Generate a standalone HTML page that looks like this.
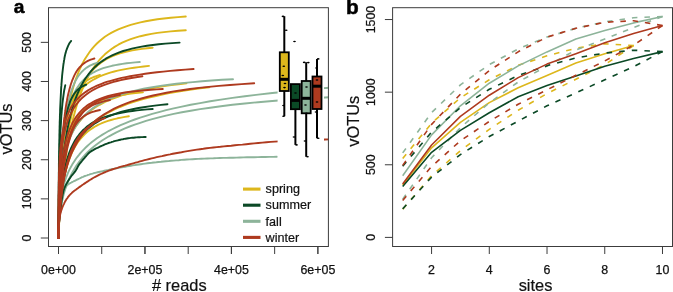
<!DOCTYPE html>
<html><head><meta charset="utf-8"><title>Figure</title>
<style>html,body{margin:0;padding:0;background:#fff}text{filter:grayscale(1)}body{width:673px;height:292px;overflow:hidden;position:relative;font-family:"Liberation Sans",sans-serif}</style></head>
<body>
<svg width="673" height="292" viewBox="0 0 673 292" style="position:absolute;left:0;top:0;font-family:'Liberation Sans',sans-serif">
<rect width="673" height="292" fill="#fff"/>
<defs><clipPath id="ca"><rect x="48.5" y="7.7" width="279.9" height="238.8"/></clipPath><clipPath id="cb"><rect x="392.6" y="7.7" width="279.9" height="238.8"/></clipPath></defs>
<g clip-path="url(#ca)" fill="none" stroke-width="1.9" stroke-linecap="round" stroke-linejoin="round">
<path d="M58.5,238.0 L58.5,233.8 L58.5,233.6 L58.5,233.4 L58.5,233.3 L58.5,233.1 L58.5,232.9 L58.5,232.7 L58.5,232.5 L58.5,232.3 L58.5,232.0 L58.5,231.8 L58.5,231.6 L58.5,231.3 L58.5,231.1 L58.5,230.8 L58.6,230.5 L58.6,230.2 L58.6,229.9 L58.6,229.6 L58.6,229.3 L58.6,228.9 L58.6,228.6 L58.6,228.2 L58.6,227.8 L58.6,227.4 L58.6,227.0 L58.6,226.6 L58.6,226.2 L58.6,225.7 L58.6,225.2 L58.6,224.8 L58.6,224.3 L58.7,223.7 L58.7,223.2 L58.7,222.6 L58.7,222.0 L58.7,221.4 L58.7,220.8 L58.7,220.1 L58.7,219.5 L58.7,218.7 L58.8,218.0 L58.8,217.3 L58.8,216.5 L58.8,215.7 L58.8,214.8 L58.9,214.0 L58.9,213.1 L58.9,212.2 L58.9,211.2 L59.0,210.2 L59.0,209.2 L59.0,208.1 L59.1,207.0 L59.1,205.9 L59.1,204.7 L59.2,203.5 L59.2,202.2 L59.3,200.9 L59.3,199.6 L59.4,198.2 L59.4,196.8 L59.5,195.3 L59.6,193.8 L59.6,192.3 L59.7,190.7 L59.8,189.0 L59.9,187.3 L60.0,185.6 L60.0,183.8 L60.1,181.9 L60.3,180.0 L60.4,178.0 L60.5,176.0 L60.6,174.0 L60.8,171.8 L60.9,169.7 L61.1,167.4 L61.2,165.1 L61.4,162.8 L61.6,160.4 L61.8,158.0 L62.0,155.5 L62.2,152.9 L62.5,150.3 L62.7,147.6 L63.0,144.9 L63.3,142.2 L63.6,139.4 L64.0,136.5 L64.3,133.6 L64.7,130.7 L65.1,127.7 L65.5,124.7 L66.0,121.6 L66.5,118.5 L67.0,115.4 L67.5,112.3 L68.1,109.1 L68.7,105.9 L69.4,102.7 L70.1,99.5 L70.9,96.3 L71.7,93.1 L72.5,89.9 L73.4,86.7 L74.4,83.5 L75.4,80.3 L76.6,77.2 L77.7,74.1 L79.0,71.0 L80.3,68.0 L81.7,65.0 L83.2,62.1 L84.8,59.2 L86.6,56.4 L88.4,53.7 L90.3,51.0 L92.4,48.4 L94.6,45.9 L96.9,43.5 L99.4,41.2 L102.1,39.0 L104.9,36.8 L108.0,34.8 L111.2,32.9 L114.6,31.1 L118.3,29.4 L122.2,27.8 L126.3,26.3 L130.7,24.9 L135.4,23.6 L140.4,22.4 L145.7,21.3 L151.4,20.2 L157.4,19.3 L163.9,18.5 L170.7,17.8 L178.0,17.1 L185.8,16.5" stroke="#DDB71C"/>
<path d="M58.5,238.0 L58.5,237.0 L58.5,237.0 L58.5,236.9 L58.5,236.8 L58.5,236.8 L58.5,236.7 L58.5,236.7 L58.5,236.6 L58.5,236.5 L58.5,236.5 L58.5,236.4 L58.5,236.3 L58.5,236.2 L58.5,236.1 L58.5,236.0 L58.6,235.9 L58.6,235.8 L58.6,235.7 L58.6,235.6 L58.6,235.5 L58.6,235.3 L58.6,235.2 L58.6,235.1 L58.6,234.9 L58.6,234.8 L58.6,234.6 L58.6,234.4 L58.6,234.2 L58.6,234.1 L58.6,233.9 L58.6,233.7 L58.6,233.4 L58.7,233.2 L58.7,233.0 L58.7,232.7 L58.7,232.4 L58.7,232.2 L58.7,231.9 L58.7,231.6 L58.7,231.3 L58.7,230.9 L58.8,230.6 L58.8,230.2 L58.8,229.8 L58.8,229.4 L58.8,229.0 L58.9,228.5 L58.9,228.1 L58.9,227.6 L58.9,227.1 L59.0,226.5 L59.0,225.9 L59.0,225.4 L59.1,224.7 L59.1,224.1 L59.1,223.4 L59.2,222.7 L59.2,221.9 L59.3,221.2 L59.3,220.4 L59.4,219.5 L59.4,218.6 L59.5,217.7 L59.6,216.7 L59.6,215.7 L59.7,214.6 L59.8,213.5 L59.9,212.3 L60.0,211.1 L60.0,209.9 L60.1,208.5 L60.3,207.2 L60.4,205.7 L60.5,204.2 L60.6,202.7 L60.8,201.0 L60.9,199.3 L61.1,197.6 L61.2,195.8 L61.4,193.9 L61.6,191.9 L61.8,189.8 L62.0,187.7 L62.2,185.5 L62.5,183.2 L62.7,180.9 L63.0,178.4 L63.3,175.9 L63.6,173.3 L64.0,170.6 L64.3,167.8 L64.7,165.0 L65.1,162.1 L65.5,159.0 L66.0,155.9 L66.5,152.8 L67.0,149.5 L67.5,146.2 L68.1,142.8 L68.7,139.3 L69.4,135.8 L70.1,132.2 L70.9,128.6 L71.7,124.9 L72.5,121.2 L73.4,117.4 L74.4,113.7 L75.4,109.8 L76.6,106.0 L77.7,102.2 L79.0,98.4 L80.3,94.6 L81.7,90.8 L83.2,87.1 L84.8,83.4 L86.6,79.8 L88.4,76.3 L90.3,72.8 L92.4,69.4 L94.6,66.2 L96.9,63.0 L99.4,60.0 L102.1,57.1 L104.9,54.3 L108.0,51.7 L111.2,49.2 L114.6,46.9 L118.3,44.7 L122.2,42.7 L126.3,40.9 L130.7,39.2 L135.4,37.6 L140.4,36.2 L145.7,35.0 L151.4,33.9 L157.4,32.9 L163.9,32.1 L170.7,31.4 L178.0,30.7 L185.8,30.2" stroke="#DDB71C"/>
<path d="M58.5,238.0 L58.5,236.3 L58.5,236.3 L58.5,236.2 L58.5,236.1 L58.5,236.0 L58.5,235.9 L58.5,235.8 L58.5,235.7 L58.5,235.6 L58.5,235.5 L58.5,235.4 L58.5,235.3 L58.5,235.2 L58.5,235.0 L58.5,234.9 L58.5,234.8 L58.6,234.6 L58.6,234.5 L58.6,234.3 L58.6,234.1 L58.6,234.0 L58.6,233.8 L58.6,233.6 L58.6,233.4 L58.6,233.2 L58.6,233.0 L58.6,232.7 L58.6,232.5 L58.6,232.3 L58.6,232.0 L58.6,231.7 L58.6,231.4 L58.6,231.2 L58.6,230.8 L58.7,230.5 L58.7,230.2 L58.7,229.8 L58.7,229.5 L58.7,229.1 L58.7,228.7 L58.7,228.3 L58.7,227.9 L58.8,227.4 L58.8,226.9 L58.8,226.4 L58.8,225.9 L58.8,225.4 L58.8,224.8 L58.9,224.3 L58.9,223.7 L58.9,223.0 L58.9,222.4 L59.0,221.7 L59.0,221.0 L59.0,220.2 L59.1,219.5 L59.1,218.7 L59.1,217.8 L59.2,217.0 L59.2,216.1 L59.3,215.1 L59.3,214.1 L59.4,213.1 L59.4,212.1 L59.5,211.0 L59.5,209.8 L59.6,208.7 L59.7,207.4 L59.8,206.2 L59.8,204.8 L59.9,203.5 L60.0,202.0 L60.1,200.6 L60.2,199.0 L60.3,197.5 L60.4,195.8 L60.5,194.1 L60.7,192.4 L60.8,190.6 L60.9,188.7 L61.1,186.8 L61.3,184.8 L61.4,182.8 L61.6,180.7 L61.8,178.5 L62.0,176.3 L62.2,174.0 L62.5,171.7 L62.7,169.2 L63.0,166.8 L63.3,164.2 L63.6,161.6 L63.9,159.0 L64.2,156.3 L64.6,153.5 L65.0,150.7 L65.4,147.8 L65.8,144.9 L66.3,142.0 L66.8,139.0 L67.3,135.9 L67.8,132.8 L68.4,129.7 L69.0,126.6 L69.7,123.5 L70.4,120.3 L71.1,117.2 L71.9,114.0 L72.8,110.8 L73.7,107.7 L74.6,104.5 L75.6,101.4 L76.7,98.3 L77.9,95.3 L79.1,92.3 L80.4,89.4 L81.7,86.5 L83.2,83.7 L84.8,80.9 L86.4,78.3 L88.1,75.7 L90.0,73.3 L92.0,70.9 L94.1,68.6 L96.3,66.5 L98.7,64.4 L101.2,62.5 L103.9,60.7 L106.7,59.0 L109.8,57.4 L113.0,56.0 L116.4,54.6 L120.0,53.4 L123.9,52.3 L128.0,51.3 L132.4,50.4 L137.0,49.6 L141.9,48.9 L147.1,48.2 L152.7,47.7" stroke="#DDB71C"/>
<path d="M58.5,238.0 L58.5,226.6 L58.5,226.3 L58.5,226.0 L58.5,225.6 L58.5,225.3 L58.5,224.9 L58.5,224.6 L58.5,224.2 L58.5,223.8 L58.5,223.4 L58.5,223.0 L58.5,222.6 L58.5,222.2 L58.5,221.8 L58.5,221.3 L58.5,220.9 L58.6,220.4 L58.6,219.9 L58.6,219.4 L58.6,218.9 L58.6,218.4 L58.6,217.8 L58.6,217.3 L58.6,216.7 L58.6,216.2 L58.6,215.6 L58.6,215.0 L58.6,214.3 L58.6,213.7 L58.6,213.1 L58.6,212.4 L58.6,211.7 L58.6,211.0 L58.6,210.3 L58.7,209.6 L58.7,208.8 L58.7,208.0 L58.7,207.3 L58.7,206.4 L58.7,205.6 L58.7,204.8 L58.7,203.9 L58.8,203.0 L58.8,202.1 L58.8,201.2 L58.8,200.3 L58.8,199.3 L58.8,198.3 L58.9,197.3 L58.9,196.3 L58.9,195.2 L58.9,194.2 L59.0,193.1 L59.0,192.0 L59.0,190.8 L59.1,189.7 L59.1,188.5 L59.1,187.3 L59.2,186.1 L59.2,184.8 L59.3,183.5 L59.3,182.2 L59.4,180.9 L59.4,179.6 L59.5,178.2 L59.5,176.8 L59.6,175.4 L59.7,174.0 L59.7,172.5 L59.8,171.0 L59.9,169.5 L60.0,168.0 L60.1,166.5 L60.2,164.9 L60.3,163.3 L60.4,161.7 L60.5,160.1 L60.6,158.4 L60.8,156.7 L60.9,155.0 L61.0,153.3 L61.2,151.6 L61.4,149.9 L61.5,148.1 L61.7,146.3 L61.9,144.6 L62.2,142.8 L62.4,140.9 L62.6,139.1 L62.9,137.3 L63.2,135.5 L63.4,133.6 L63.8,131.8 L64.1,129.9 L64.4,128.0 L64.8,126.2 L65.2,124.3 L65.6,122.5 L66.1,120.6 L66.5,118.7 L67.0,116.9 L67.6,115.1 L68.1,113.2 L68.7,111.4 L69.4,109.6 L70.0,107.8 L70.8,106.0 L71.5,104.3 L72.3,102.5 L73.2,100.8 L74.1,99.1 L75.1,97.5 L76.1,95.8 L77.2,94.2 L78.4,92.6 L79.7,91.1 L81.0,89.6 L82.4,88.1 L83.9,86.6 L85.5,85.2 L87.1,83.8 L88.9,82.5 L90.8,81.2 L92.8,80.0 L95.0,78.8 L97.3,77.6 L99.7,76.5 L102.3,75.4 L105.0,74.4 L107.9,73.4 L111.0,72.4 L114.3,71.5 L117.7,70.7 L121.4,69.9 L125.4,69.1 L129.5,68.4 L134.0,67.7 L138.7,67.1 L143.7,66.5 L149.0,65.9" stroke="#DDB71C"/>
<path d="M58.5,238.0 L58.5,232.2 L58.5,232.0 L58.5,231.8 L58.5,231.6 L58.5,231.4 L58.5,231.2 L58.5,231.0 L58.5,230.7 L58.5,230.5 L58.5,230.3 L58.5,230.0 L58.5,229.7 L58.5,229.5 L58.5,229.2 L58.5,228.9 L58.5,228.6 L58.6,228.3 L58.6,228.0 L58.6,227.7 L58.6,227.4 L58.6,227.0 L58.6,226.7 L58.6,226.3 L58.6,226.0 L58.6,225.6 L58.6,225.2 L58.6,224.8 L58.6,224.3 L58.6,223.9 L58.6,223.5 L58.6,223.0 L58.6,222.5 L58.6,222.1 L58.6,221.6 L58.7,221.1 L58.7,220.5 L58.7,220.0 L58.7,219.4 L58.7,218.9 L58.7,218.3 L58.7,217.7 L58.7,217.0 L58.7,216.4 L58.8,215.7 L58.8,215.0 L58.8,214.3 L58.8,213.6 L58.8,212.9 L58.9,212.1 L58.9,211.4 L58.9,210.6 L58.9,209.7 L59.0,208.9 L59.0,208.0 L59.0,207.2 L59.0,206.3 L59.1,205.3 L59.1,204.4 L59.2,203.4 L59.2,202.4 L59.2,201.4 L59.3,200.3 L59.3,199.3 L59.4,198.2 L59.4,197.1 L59.5,195.9 L59.6,194.7 L59.6,193.5 L59.7,192.3 L59.8,191.1 L59.8,189.8 L59.9,188.5 L60.0,187.2 L60.1,185.8 L60.2,184.5 L60.3,183.1 L60.4,181.6 L60.5,180.2 L60.7,178.7 L60.8,177.2 L60.9,175.7 L61.1,174.1 L61.3,172.6 L61.4,171.0 L61.6,169.4 L61.8,167.7 L62.0,166.1 L62.2,164.4 L62.4,162.7 L62.7,161.0 L62.9,159.3 L63.2,157.6 L63.5,155.9 L63.8,154.1 L64.2,152.3 L64.5,150.6 L64.9,148.8 L65.3,147.0 L65.7,145.2 L66.1,143.4 L66.6,141.6 L67.1,139.8 L67.6,138.0 L68.2,136.3 L68.8,134.5 L69.5,132.7 L70.1,131.0 L70.9,129.3 L71.6,127.5 L72.4,125.8 L73.3,124.2 L74.2,122.5 L75.2,120.9 L76.2,119.3 L77.3,117.7 L78.5,116.2 L79.7,114.7 L81.0,113.2 L82.4,111.8 L83.9,110.4 L85.5,109.1 L87.1,107.8 L88.9,106.5 L90.8,105.3 L92.8,104.1 L94.9,103.0 L97.2,102.0 L99.6,100.9 L102.1,100.0 L104.8,99.0 L107.7,98.2 L110.7,97.3 L113.9,96.6 L117.4,95.8 L121.0,95.1 L124.9,94.5 L129.0,93.9 L133.3,93.4 L138.0,92.9 L142.9,92.4" stroke="#DDB71C"/>
<path d="M58.5,238.0 L58.5,227.9 L58.5,227.7 L58.5,227.4 L58.5,227.1 L58.5,226.8 L58.5,226.5 L58.5,226.2 L58.5,225.9 L58.5,225.6 L58.5,225.3 L58.5,225.0 L58.5,224.6 L58.5,224.3 L58.5,223.9 L58.5,223.6 L58.6,223.2 L58.6,222.8 L58.6,222.4 L58.6,222.0 L58.6,221.6 L58.6,221.2 L58.6,220.7 L58.6,220.3 L58.6,219.8 L58.6,219.4 L58.6,218.9 L58.6,218.4 L58.6,217.9 L58.6,217.4 L58.6,216.9 L58.6,216.3 L58.6,215.8 L58.7,215.2 L58.7,214.7 L58.7,214.1 L58.7,213.5 L58.7,212.9 L58.7,212.2 L58.7,211.6 L58.7,210.9 L58.7,210.3 L58.8,209.6 L58.8,208.9 L58.8,208.2 L58.8,207.4 L58.8,206.7 L58.9,205.9 L58.9,205.1 L58.9,204.3 L58.9,203.5 L59.0,202.7 L59.0,201.9 L59.0,201.0 L59.1,200.1 L59.1,199.2 L59.1,198.3 L59.2,197.4 L59.2,196.4 L59.3,195.4 L59.3,194.4 L59.4,193.4 L59.4,192.4 L59.5,191.4 L59.6,190.3 L59.6,189.2 L59.7,188.1 L59.8,187.0 L59.9,185.8 L60.0,184.7 L60.0,183.5 L60.2,182.3 L60.3,181.1 L60.4,179.8 L60.5,178.6 L60.6,177.3 L60.8,176.0 L60.9,174.7 L61.1,173.4 L61.2,172.0 L61.4,170.6 L61.6,169.2 L61.8,167.8 L62.0,166.4 L62.2,165.0 L62.5,163.5 L62.7,162.0 L63.0,160.6 L63.3,159.0 L63.6,157.5 L64.0,156.0 L64.3,154.4 L64.7,152.9 L65.1,151.3 L65.5,149.7 L66.0,148.1 L66.5,146.5 L67.0,144.9 L67.6,143.3 L68.1,141.7 L68.8,140.0 L69.4,138.4 L70.2,136.7 L70.9,135.1 L71.7,133.4 L72.6,131.8 L73.5,130.1 L74.5,128.5 L75.5,126.8 L76.6,125.2 L77.8,123.6 L79.1,121.9 L80.4,120.3 L81.8,118.7 L83.3,117.1 L84.9,115.5 L86.7,113.9 L88.5,112.4 L90.5,110.8 L92.5,109.3 L94.7,107.8 L97.1,106.3 L99.6,104.8 L102.3,103.4 L105.1,101.9 L108.2,100.5 L111.4,99.2 L114.9,97.8 L118.5,96.5 L122.4,95.2 L126.6,94.0 L131.0,92.7 L135.7,91.6 L140.8,90.4 L146.1,89.3 L151.8,88.2 L157.9,87.1 L164.4,86.1 L171.2,85.1 L178.6,84.2 L186.4,83.3" stroke="#DDB71C"/>
<path d="M58.5,238.0 L58.5,232.1 L58.5,231.9 L58.5,231.7 L58.5,231.5 L58.5,231.4 L58.5,231.2 L58.5,231.0 L58.5,230.7 L58.5,230.5 L58.5,230.3 L58.5,230.1 L58.5,229.8 L58.5,229.6 L58.5,229.3 L58.5,229.1 L58.6,228.8 L58.6,228.6 L58.6,228.3 L58.6,228.0 L58.6,227.7 L58.6,227.4 L58.6,227.1 L58.6,226.8 L58.6,226.4 L58.6,226.1 L58.6,225.7 L58.6,225.4 L58.6,225.0 L58.6,224.6 L58.6,224.2 L58.6,223.8 L58.6,223.4 L58.7,223.0 L58.7,222.6 L58.7,222.1 L58.7,221.7 L58.7,221.2 L58.7,220.7 L58.7,220.2 L58.7,219.7 L58.8,219.2 L58.8,218.6 L58.8,218.1 L58.8,217.5 L58.8,216.9 L58.9,216.3 L58.9,215.7 L58.9,215.1 L58.9,214.4 L59.0,213.8 L59.0,213.1 L59.0,212.4 L59.1,211.7 L59.1,210.9 L59.1,210.2 L59.2,209.4 L59.2,208.6 L59.3,207.8 L59.3,207.0 L59.4,206.1 L59.4,205.3 L59.5,204.4 L59.6,203.5 L59.6,202.5 L59.7,201.6 L59.8,200.6 L59.9,199.6 L60.0,198.6 L60.1,197.5 L60.2,196.5 L60.3,195.4 L60.4,194.3 L60.5,193.1 L60.7,192.0 L60.8,190.8 L61.0,189.6 L61.1,188.4 L61.3,187.1 L61.5,185.8 L61.7,184.5 L61.9,183.2 L62.1,181.8 L62.4,180.5 L62.6,179.1 L62.9,177.6 L63.2,176.2 L63.5,174.7 L63.8,173.2 L64.2,171.7 L64.6,170.2 L65.0,168.6 L65.4,167.0 L65.9,165.4 L66.4,163.8 L66.9,162.1 L67.4,160.5 L68.0,158.8 L68.7,157.1 L69.3,155.4 L70.1,153.6 L70.8,151.9 L71.6,150.1 L72.5,148.3 L73.4,146.5 L74.4,144.7 L75.5,142.9 L76.6,141.1 L77.8,139.3 L79.1,137.4 L80.5,135.6 L81.9,133.7 L83.5,131.9 L85.1,130.1 L86.9,128.2 L88.8,126.4 L90.8,124.5 L92.9,122.7 L95.2,120.9 L97.7,119.1 L100.3,117.3 L103.0,115.6 L106.0,113.8 L109.1,112.1 L112.5,110.3 L116.1,108.7 L119.9,107.0 L124.0,105.3 L128.3,103.7 L132.9,102.1 L137.9,100.6 L143.1,99.1 L148.8,97.6 L154.8,96.2 L161.1,94.8 L167.9,93.4 L175.2,92.1 L183.0,90.8 L191.2,89.5 L200.0,88.3 L209.4,87.2" stroke="#DDB71C"/>
<path d="M58.5,238.0 L58.5,235.7 L58.5,235.7 L58.5,235.6 L58.5,235.5 L58.5,235.4 L58.5,235.3 L58.5,235.2 L58.5,235.1 L58.5,235.0 L58.5,234.9 L58.5,234.7 L58.5,234.6 L58.5,234.5 L58.5,234.4 L58.5,234.2 L58.5,234.1 L58.6,233.9 L58.6,233.8 L58.6,233.6 L58.6,233.5 L58.6,233.3 L58.6,233.1 L58.6,232.9 L58.6,232.7 L58.6,232.6 L58.6,232.4 L58.6,232.1 L58.6,231.9 L58.6,231.7 L58.6,231.5 L58.6,231.2 L58.6,231.0 L58.6,230.7 L58.6,230.4 L58.6,230.2 L58.7,229.9 L58.7,229.6 L58.7,229.3 L58.7,229.0 L58.7,228.6 L58.7,228.3 L58.7,227.9 L58.7,227.6 L58.8,227.2 L58.8,226.8 L58.8,226.4 L58.8,226.0 L58.8,225.5 L58.8,225.1 L58.9,224.6 L58.9,224.2 L58.9,223.7 L58.9,223.1 L59.0,222.6 L59.0,222.1 L59.0,221.5 L59.0,220.9 L59.1,220.3 L59.1,219.7 L59.1,219.1 L59.2,218.4 L59.2,217.7 L59.3,217.0 L59.3,216.3 L59.4,215.6 L59.4,214.8 L59.5,214.0 L59.5,213.2 L59.6,212.3 L59.7,211.5 L59.7,210.6 L59.8,209.7 L59.9,208.7 L60.0,207.8 L60.0,206.8 L60.1,205.8 L60.2,204.7 L60.3,203.6 L60.5,202.5 L60.6,201.4 L60.7,200.2 L60.8,199.1 L61.0,197.8 L61.1,196.6 L61.3,195.3 L61.4,194.0 L61.6,192.7 L61.8,191.3 L62.0,189.9 L62.2,188.5 L62.5,187.1 L62.7,185.6 L63.0,184.1 L63.2,182.6 L63.5,181.1 L63.8,179.5 L64.1,177.9 L64.5,176.3 L64.8,174.7 L65.2,173.1 L65.6,171.4 L66.1,169.7 L66.5,168.0 L67.0,166.3 L67.5,164.6 L68.1,162.9 L68.6,161.1 L69.2,159.4 L69.9,157.6 L70.6,155.9 L71.3,154.2 L72.1,152.4 L72.9,150.7 L73.8,149.0 L74.7,147.3 L75.7,145.6 L76.7,143.9 L77.8,142.3 L79.0,140.7 L80.2,139.1 L81.6,137.5 L83.0,136.0 L84.4,134.5 L86.0,133.0 L87.7,131.6 L89.4,130.2 L91.3,128.9 L93.3,127.6 L95.4,126.3 L97.6,125.2 L100.0,124.0 L102.5,122.9 L105.2,121.9 L108.0,120.9 L111.0,120.0 L114.2,119.1 L117.5,118.3 L121.1,117.6 L124.9,116.9 L128.9,116.2" stroke="#DDB71C"/>
<path d="M58.5,238.0 L58.5,235.1 L58.5,235.0 L58.5,234.8 L58.5,234.7 L58.5,234.6 L58.5,234.5 L58.5,234.3 L58.5,234.2 L58.5,234.0 L58.5,233.9 L58.5,233.7 L58.5,233.6 L58.5,233.4 L58.5,233.2 L58.5,233.0 L58.5,232.8 L58.5,232.6 L58.6,232.4 L58.6,232.2 L58.6,232.0 L58.6,231.7 L58.6,231.5 L58.6,231.3 L58.6,231.0 L58.6,230.7 L58.6,230.5 L58.6,230.2 L58.6,229.9 L58.6,229.6 L58.6,229.2 L58.6,228.9 L58.6,228.6 L58.6,228.2 L58.6,227.8 L58.6,227.4 L58.6,227.0 L58.6,226.6 L58.7,226.2 L58.7,225.7 L58.7,225.3 L58.7,224.8 L58.7,224.3 L58.7,223.8 L58.7,223.3 L58.7,222.7 L58.7,222.1 L58.8,221.5 L58.8,220.9 L58.8,220.3 L58.8,219.7 L58.8,219.0 L58.8,218.3 L58.8,217.5 L58.9,216.8 L58.9,216.0 L58.9,215.2 L58.9,214.4 L59.0,213.5 L59.0,212.7 L59.0,211.8 L59.0,210.8 L59.1,209.8 L59.1,208.8 L59.1,207.8 L59.2,206.7 L59.2,205.6 L59.3,204.5 L59.3,203.3 L59.3,202.1 L59.4,200.9 L59.4,199.6 L59.5,198.3 L59.5,197.0 L59.6,195.6 L59.7,194.2 L59.7,192.7 L59.8,191.2 L59.9,189.7 L60.0,188.1 L60.0,186.5 L60.1,184.8 L60.2,183.1 L60.3,181.4 L60.4,179.6 L60.5,177.8 L60.6,175.9 L60.8,174.0 L60.9,172.1 L61.0,170.1 L61.2,168.1 L61.3,166.1 L61.5,164.0 L61.6,161.9 L61.8,159.7 L62.0,157.6 L62.2,155.4 L62.4,153.1 L62.6,150.9 L62.9,148.6 L63.1,146.3 L63.4,144.0 L63.6,141.6 L63.9,139.3 L64.2,136.9 L64.6,134.6 L64.9,132.2 L65.3,129.9 L65.7,127.5 L66.1,125.1 L66.5,122.8 L66.9,120.5 L67.4,118.2 L67.9,115.9 L68.4,113.6 L69.0,111.4 L69.6,109.2 L70.2,107.1 L70.9,105.0 L71.6,102.9 L72.3,100.9 L73.1,98.9 L73.9,97.0 L74.8,95.2 L75.7,93.4 L76.7,91.7 L77.7,90.1 L78.8,88.5 L80.0,87.0 L81.2,85.6 L82.5,84.3 L83.8,83.0 L85.2,81.8 L86.7,80.7 L88.3,79.7 L90.0,78.7 L91.8,77.9 L93.7,77.0 L95.7,76.3 L97.8,75.6 L100.0,75.0" stroke="#DDB71C"/>
<path d="M58.5,238.0 L58.5,231.0 L58.5,230.7 L58.5,230.5 L58.5,230.2 L58.5,230.0 L58.5,229.7 L58.5,229.4 L58.5,229.2 L58.5,228.9 L58.5,228.6 L58.5,228.2 L58.5,227.9 L58.5,227.6 L58.5,227.3 L58.5,226.9 L58.5,226.5 L58.6,226.2 L58.6,225.8 L58.6,225.4 L58.6,225.0 L58.6,224.5 L58.6,224.1 L58.6,223.6 L58.6,223.2 L58.6,222.7 L58.6,222.2 L58.6,221.7 L58.6,221.2 L58.6,220.6 L58.6,220.0 L58.6,219.5 L58.6,218.9 L58.6,218.3 L58.6,217.6 L58.7,217.0 L58.7,216.3 L58.7,215.6 L58.7,214.9 L58.7,214.2 L58.7,213.4 L58.7,212.7 L58.7,211.9 L58.7,211.1 L58.8,210.2 L58.8,209.3 L58.8,208.5 L58.8,207.5 L58.8,206.6 L58.9,205.6 L58.9,204.7 L58.9,203.6 L58.9,202.6 L58.9,201.5 L59.0,200.4 L59.0,199.3 L59.0,198.1 L59.1,197.0 L59.1,195.7 L59.1,194.5 L59.2,193.2 L59.2,191.9 L59.3,190.6 L59.3,189.2 L59.4,187.8 L59.4,186.4 L59.5,184.9 L59.5,183.4 L59.6,181.9 L59.7,180.3 L59.7,178.7 L59.8,177.1 L59.9,175.5 L60.0,173.8 L60.1,172.1 L60.2,170.3 L60.3,168.5 L60.4,166.7 L60.5,164.9 L60.6,163.0 L60.8,161.1 L60.9,159.2 L61.0,157.2 L61.2,155.2 L61.4,153.2 L61.5,151.2 L61.7,149.1 L61.9,147.1 L62.1,145.0 L62.4,142.9 L62.6,140.7 L62.8,138.6 L63.1,136.4 L63.4,134.3 L63.7,132.1 L64.0,129.9 L64.4,127.7 L64.7,125.5 L65.1,123.3 L65.5,121.1 L65.9,118.9 L66.4,116.7 L66.9,114.6 L67.4,112.4 L67.9,110.3 L68.5,108.1 L69.1,106.0 L69.8,103.9 L70.5,101.9 L71.2,99.9 L72.0,97.9 L72.9,95.9 L73.7,94.0 L74.7,92.1 L75.7,90.3 L76.7,88.5 L77.9,86.7 L79.1,85.0 L80.3,83.4 L81.7,81.8 L83.1,80.3 L84.6,78.8 L86.2,77.4 L87.9,76.0 L89.7,74.7 L91.7,73.5 L93.7,72.3 L95.9,71.2 L98.2,70.2 L100.6,69.2 L103.2,68.2 L106.0,67.4 L108.9,66.6 L112.0,65.8 L115.3,65.1 L118.8,64.5 L122.5,63.9 L126.5,63.3 L130.6,62.9 L135.1,62.4 L139.8,62.0" stroke="#8DB49A"/>
<path d="M58.5,238.0 L58.5,229.8 L58.5,229.6 L58.5,229.3 L58.5,229.1 L58.5,228.8 L58.5,228.5 L58.5,228.3 L58.5,228.0 L58.5,227.7 L58.5,227.4 L58.5,227.1 L58.5,226.8 L58.5,226.4 L58.5,226.1 L58.5,225.7 L58.6,225.4 L58.6,225.0 L58.6,224.6 L58.6,224.2 L58.6,223.8 L58.6,223.4 L58.6,223.0 L58.6,222.6 L58.6,222.1 L58.6,221.7 L58.6,221.2 L58.6,220.7 L58.6,220.2 L58.6,219.7 L58.6,219.2 L58.6,218.7 L58.7,218.1 L58.7,217.6 L58.7,217.0 L58.7,216.4 L58.7,215.8 L58.7,215.1 L58.7,214.5 L58.7,213.8 L58.8,213.2 L58.8,212.5 L58.8,211.8 L58.8,211.0 L58.8,210.3 L58.9,209.5 L58.9,208.7 L58.9,207.9 L58.9,207.1 L59.0,206.3 L59.0,205.4 L59.0,204.5 L59.1,203.6 L59.1,202.7 L59.1,201.8 L59.2,200.8 L59.2,199.8 L59.3,198.8 L59.3,197.8 L59.4,196.7 L59.4,195.6 L59.5,194.5 L59.6,193.4 L59.6,192.3 L59.7,191.1 L59.8,189.9 L59.9,188.7 L60.0,187.5 L60.1,186.2 L60.2,184.9 L60.3,183.6 L60.4,182.3 L60.6,180.9 L60.7,179.5 L60.8,178.1 L61.0,176.7 L61.2,175.2 L61.4,173.8 L61.5,172.3 L61.8,170.7 L62.0,169.2 L62.2,167.6 L62.5,166.0 L62.7,164.4 L63.0,162.8 L63.3,161.2 L63.6,159.5 L64.0,157.8 L64.4,156.1 L64.8,154.4 L65.2,152.7 L65.6,150.9 L66.1,149.2 L66.6,147.4 L67.2,145.6 L67.7,143.9 L68.4,142.1 L69.0,140.2 L69.7,138.4 L70.5,136.6 L71.3,134.8 L72.2,133.0 L73.1,131.2 L74.1,129.4 L75.1,127.5 L76.3,125.7 L77.5,123.9 L78.7,122.2 L80.1,120.4 L81.6,118.6 L83.1,116.9 L84.8,115.1 L86.6,113.4 L88.4,111.7 L90.5,110.0 L92.6,108.4 L94.9,106.8 L97.4,105.2 L100.0,103.6 L102.8,102.1 L105.8,100.6 L109.0,99.1 L112.4,97.7 L116.0,96.3 L119.9,94.9 L124.0,93.6 L128.5,92.4 L133.2,91.1 L138.2,89.9 L143.6,88.8 L149.3,87.7 L155.5,86.6 L162.0,85.6 L169.0,84.7 L176.4,83.8 L184.4,82.9 L192.9,82.1 L202.0,81.3 L211.6,80.5 L222.0,79.8 L233.0,79.2" stroke="#8DB49A"/>
<path d="M58.5,238.0 L58.5,232.1 L58.5,232.0 L58.5,231.8 L58.5,231.6 L58.5,231.4 L58.5,231.2 L58.5,231.0 L58.5,230.8 L58.5,230.6 L58.5,230.4 L58.5,230.2 L58.5,230.0 L58.5,229.7 L58.5,229.5 L58.6,229.2 L58.6,229.0 L58.6,228.7 L58.6,228.5 L58.6,228.2 L58.6,227.9 L58.6,227.6 L58.6,227.3 L58.6,227.0 L58.6,226.7 L58.6,226.4 L58.6,226.1 L58.6,225.7 L58.6,225.4 L58.6,225.0 L58.6,224.6 L58.7,224.3 L58.7,223.9 L58.7,223.5 L58.7,223.1 L58.7,222.6 L58.7,222.2 L58.7,221.8 L58.8,221.3 L58.8,220.8 L58.8,220.4 L58.8,219.9 L58.8,219.4 L58.9,218.8 L58.9,218.3 L58.9,217.8 L58.9,217.2 L59.0,216.6 L59.0,216.0 L59.0,215.4 L59.1,214.8 L59.1,214.2 L59.2,213.5 L59.2,212.9 L59.3,212.2 L59.3,211.5 L59.4,210.7 L59.4,210.0 L59.5,209.3 L59.6,208.5 L59.7,207.7 L59.7,206.9 L59.8,206.0 L59.9,205.2 L60.0,204.3 L60.1,203.4 L60.2,202.5 L60.4,201.6 L60.5,200.6 L60.6,199.7 L60.8,198.7 L61.0,197.7 L61.1,196.6 L61.3,195.6 L61.5,194.5 L61.7,193.4 L62.0,192.2 L62.2,191.1 L62.5,189.9 L62.8,188.7 L63.1,187.5 L63.4,186.2 L63.7,185.0 L64.1,183.7 L64.5,182.3 L64.9,181.0 L65.4,179.6 L65.9,178.2 L66.4,176.8 L67.0,175.4 L67.6,173.9 L68.2,172.4 L68.9,170.9 L69.6,169.4 L70.4,167.8 L71.3,166.2 L72.2,164.6 L73.2,163.0 L74.2,161.4 L75.3,159.7 L76.5,158.0 L77.8,156.3 L79.2,154.6 L80.6,152.8 L82.2,151.1 L83.9,149.3 L85.7,147.5 L87.6,145.7 L89.7,143.9 L91.9,142.0 L94.3,140.2 L96.9,138.3 L99.6,136.5 L102.5,134.6 L105.7,132.7 L109.0,130.8 L112.6,129.0 L116.4,127.1 L120.6,125.2 L125.0,123.3 L129.7,121.4 L134.8,119.5 L140.2,117.6 L146.0,115.8 L152.2,113.9 L158.9,112.1 L166.1,110.2 L173.7,108.4 L181.9,106.6 L190.7,104.8 L200.1,103.1 L210.2,101.3 L220.9,99.6 L232.5,97.9 L244.9,96.3 L258.1,94.6 L272.3,93.0 L287.6,91.5 L303.9,89.9 L321.3,88.4 L340.0,87.0" stroke="#8DB49A"/>
<path d="M58.5,238.0 L58.5,235.2 L58.5,235.1 L58.5,235.0 L58.5,234.9 L58.5,234.8 L58.5,234.7 L58.5,234.6 L58.5,234.5 L58.5,234.3 L58.5,234.2 L58.5,234.1 L58.5,233.9 L58.5,233.8 L58.5,233.6 L58.6,233.5 L58.6,233.3 L58.6,233.1 L58.6,233.0 L58.6,232.8 L58.6,232.6 L58.6,232.4 L58.6,232.2 L58.6,232.0 L58.6,231.8 L58.6,231.5 L58.6,231.3 L58.6,231.1 L58.6,230.8 L58.6,230.6 L58.6,230.3 L58.7,230.0 L58.7,229.7 L58.7,229.4 L58.7,229.1 L58.7,228.8 L58.7,228.5 L58.7,228.2 L58.8,227.8 L58.8,227.4 L58.8,227.1 L58.8,226.7 L58.8,226.3 L58.9,225.9 L58.9,225.4 L58.9,225.0 L58.9,224.6 L59.0,224.1 L59.0,223.6 L59.0,223.1 L59.1,222.6 L59.1,222.0 L59.2,221.5 L59.2,220.9 L59.3,220.3 L59.3,219.7 L59.4,219.1 L59.4,218.5 L59.5,217.8 L59.6,217.1 L59.7,216.4 L59.7,215.7 L59.8,214.9 L59.9,214.1 L60.0,213.3 L60.1,212.5 L60.2,211.7 L60.4,210.8 L60.5,209.9 L60.6,209.0 L60.8,208.0 L61.0,207.0 L61.1,206.0 L61.3,205.0 L61.5,203.9 L61.7,202.8 L62.0,201.7 L62.2,200.6 L62.5,199.4 L62.8,198.2 L63.1,196.9 L63.4,195.6 L63.7,194.3 L64.1,193.0 L64.5,191.6 L64.9,190.2 L65.4,188.8 L65.9,187.3 L66.4,185.9 L67.0,184.3 L67.6,182.8 L68.2,181.2 L68.9,179.6 L69.6,177.9 L70.4,176.2 L71.3,174.5 L72.2,172.8 L73.2,171.1 L74.2,169.3 L75.3,167.5 L76.5,165.6 L77.8,163.8 L79.2,161.9 L80.6,160.0 L82.2,158.1 L83.9,156.1 L85.7,154.2 L87.6,152.2 L89.7,150.2 L91.9,148.2 L94.3,146.2 L96.9,144.3 L99.6,142.3 L102.5,140.3 L105.7,138.3 L109.0,136.3 L112.6,134.3 L116.4,132.3 L120.6,130.4 L125.0,128.4 L129.7,126.5 L134.8,124.6 L140.2,122.8 L146.0,120.9 L152.2,119.1 L158.9,117.4 L166.1,115.6 L173.7,113.9 L181.9,112.3 L190.7,110.7 L200.1,109.1 L210.2,107.7 L220.9,106.2 L232.5,104.8 L244.9,103.5 L258.1,102.2 L272.3,101.0 L287.6,99.8 L303.9,98.7 L321.3,97.7 L340.0,96.7" stroke="#8DB49A"/>
<path d="M58.5,238.0 L58.5,237.6 L58.5,237.1 L58.5,236.6 L58.5,236.0 L58.5,235.4 L58.5,234.7 L58.5,234.0 L58.5,233.3 L58.6,232.6 L58.6,231.8 L58.6,231.0 L58.6,230.1 L58.7,229.2 L58.7,228.3 L58.8,227.4 L58.8,226.4 L58.9,225.4 L58.9,224.4 L59.0,223.4 L59.1,222.3 L59.2,221.3 L59.3,220.2 L59.4,219.1 L59.5,217.9 L59.6,216.8 L59.7,215.6 L59.9,214.5 L60.0,213.3 L60.2,212.1 L60.4,210.9 L60.5,209.7 L60.7,208.4 L60.9,206.9 L61.2,205.3 L61.4,203.6 L61.6,201.9 L61.9,200.3 L62.2,198.7 L62.4,197.3 L62.7,196.0 L63.0,194.7 L63.4,193.5 L63.7,192.3 L64.1,191.2 L64.4,190.2 L64.8,189.2 L65.2,188.2 L65.6,187.3 L66.1,186.5 L66.5,185.9 L67.0,185.4 L67.5,184.9 L68.0,184.5 L68.5,184.2 L69.0,183.8 L69.6,183.5 L70.2,183.2 L70.7,182.8 L71.4,182.5 L72.0,182.1 L72.6,181.8 L73.3,181.5 L74.0,181.1 L74.7,180.8 L75.5,180.5 L76.2,180.1 L77.0,179.7 L77.8,179.3 L78.6,178.9 L79.5,178.5 L80.3,178.1 L81.2,177.7 L82.1,177.2 L83.1,176.8 L84.0,176.4 L85.0,176.0 L86.0,175.7 L87.1,175.3 L88.1,174.9 L89.2,174.6 L90.3,174.2 L91.4,173.9 L92.6,173.6 L93.8,173.2 L95.0,172.9 L96.2,172.6 L97.5,172.3 L98.8,172.0 L100.1,171.7 L101.5,171.4 L102.9,171.1 L104.3,170.8 L105.7,170.5 L107.2,170.2 L108.7,169.9 L110.2,169.5 L111.7,169.2 L113.3,168.9 L114.9,168.6 L116.6,168.3 L118.3,167.9 L120.0,167.6 L121.7,167.3 L123.5,167.0 L125.3,166.7 L127.1,166.4 L129.0,166.0 L130.9,165.7 L132.8,165.4 L134.8,165.1 L136.8,164.8 L138.8,164.5 L140.9,164.2 L143.0,163.9 L145.1,163.6 L147.3,163.3 L149.5,163.0 L151.7,162.8 L154.0,162.5 L156.3,162.3 L158.6,162.0 L161.0,161.8 L163.4,161.5 L165.9,161.3 L168.4,161.1 L170.9,160.8 L173.5,160.6 L176.1,160.4 L178.7,160.2 L181.4,159.9 L184.1,159.7 L186.9,159.5 L189.7,159.4 L192.5,159.2 L195.4,159.0 L198.3,158.9 L201.3,158.7 L204.3,158.6 L207.3,158.5 L210.4,158.4 L213.5,158.3 L216.7,158.1 L219.9,158.0 L223.1,157.9 L226.4,157.9 L229.7,157.8 L233.1,157.7 L236.5,157.6 L240.0,157.5 L243.5,157.4 L247.0,157.3 L250.6,157.3 L254.3,157.2 L257.9,157.1 L261.7,157.0 L265.4,157.0 L269.2,156.9 L273.1,156.9 L277.0,156.8" stroke="#8DB49A"/>
<path d="M58.5,238.0 L58.5,234.7 L58.5,234.6 L58.5,234.5 L58.5,234.3 L58.5,234.2 L58.5,234.0 L58.5,233.9 L58.5,233.7 L58.5,233.6 L58.5,233.4 L58.5,233.2 L58.5,233.0 L58.5,232.8 L58.5,232.6 L58.5,232.4 L58.5,232.2 L58.5,232.0 L58.6,231.8 L58.6,231.5 L58.6,231.3 L58.6,231.0 L58.6,230.8 L58.6,230.5 L58.6,230.2 L58.6,229.9 L58.6,229.6 L58.6,229.3 L58.6,229.0 L58.6,228.6 L58.6,228.3 L58.6,227.9 L58.6,227.5 L58.6,227.1 L58.6,226.7 L58.6,226.3 L58.6,225.8 L58.6,225.4 L58.7,224.9 L58.7,224.4 L58.7,223.9 L58.7,223.4 L58.7,222.8 L58.7,222.3 L58.7,221.7 L58.7,221.1 L58.7,220.5 L58.7,219.8 L58.8,219.2 L58.8,218.5 L58.8,217.7 L58.8,217.0 L58.8,216.2 L58.8,215.5 L58.9,214.6 L58.9,213.8 L58.9,212.9 L58.9,212.0 L58.9,211.1 L59.0,210.1 L59.0,209.1 L59.0,208.1 L59.1,207.0 L59.1,206.0 L59.1,204.8 L59.2,203.7 L59.2,202.5 L59.2,201.3 L59.3,200.0 L59.3,198.7 L59.4,197.3 L59.4,196.0 L59.5,194.5 L59.5,193.1 L59.6,191.6 L59.6,190.0 L59.7,188.5 L59.8,186.8 L59.8,185.2 L59.9,183.5 L60.0,181.7 L60.1,179.9 L60.2,178.1 L60.2,176.2 L60.3,174.3 L60.4,172.3 L60.6,170.3 L60.7,168.3 L60.8,166.2 L60.9,164.1 L61.1,161.9 L61.2,159.7 L61.4,157.5 L61.5,155.2 L61.7,152.9 L61.9,150.6 L62.1,148.2 L62.3,145.9 L62.5,143.4 L62.7,141.0 L62.9,138.5 L63.2,136.1 L63.4,133.6 L63.7,131.1 L64.0,128.5 L64.3,126.0 L64.6,123.5 L65.0,121.0 L65.3,118.5 L65.7,115.9 L66.1,113.4 L66.5,111.0 L67.0,108.5 L67.5,106.1 L68.0,103.7 L68.5,101.3 L69.1,99.0 L69.7,96.7 L70.3,94.5 L70.9,92.3 L71.6,90.1 L72.4,88.0 L73.2,86.0 L74.0,84.1 L74.8,82.2 L75.8,80.4 L76.7,78.7 L77.7,77.0 L78.8,75.4 L80.0,73.9 L81.2,72.5 L82.4,71.2 L83.8,69.9 L85.2,68.7 L86.7,67.6 L88.3,66.6 L89.9,65.6 L91.7,64.8 L93.6,64.0 L95.5,63.3 L97.6,62.6" stroke="#8DB49A"/>
<path d="M58.5,238.0 L58.5,224.0 L58.5,223.6 L58.5,223.2 L58.5,222.8 L58.5,222.4 L58.5,222.0 L58.5,221.6 L58.5,221.1 L58.5,220.7 L58.5,220.2 L58.5,219.7 L58.5,219.2 L58.5,218.7 L58.5,218.2 L58.5,217.7 L58.5,217.2 L58.5,216.6 L58.5,216.0 L58.5,215.5 L58.5,214.9 L58.6,214.2 L58.6,213.6 L58.6,213.0 L58.6,212.3 L58.6,211.7 L58.6,211.0 L58.6,210.3 L58.6,209.5 L58.6,208.8 L58.6,208.0 L58.6,207.3 L58.6,206.5 L58.6,205.7 L58.6,204.8 L58.6,204.0 L58.6,203.1 L58.6,202.2 L58.6,201.3 L58.6,200.4 L58.6,199.4 L58.6,198.5 L58.6,197.5 L58.6,196.5 L58.6,195.4 L58.7,194.4 L58.7,193.3 L58.7,192.2 L58.7,191.1 L58.7,189.9 L58.7,188.8 L58.7,187.6 L58.7,186.3 L58.7,185.1 L58.7,183.8 L58.7,182.5 L58.8,181.2 L58.8,179.9 L58.8,178.5 L58.8,177.1 L58.8,175.7 L58.8,174.3 L58.8,172.8 L58.9,171.3 L58.9,169.8 L58.9,168.2 L58.9,166.7 L58.9,165.1 L58.9,163.5 L59.0,161.8 L59.0,160.2 L59.0,158.5 L59.0,156.7 L59.1,155.0 L59.1,153.2 L59.1,151.5 L59.2,149.7 L59.2,147.8 L59.2,146.0 L59.2,144.1 L59.3,142.2 L59.3,140.3 L59.4,138.4 L59.4,136.4 L59.4,134.5 L59.5,132.5 L59.5,130.5 L59.6,128.5 L59.6,126.5 L59.7,124.4 L59.7,122.4 L59.8,120.3 L59.9,118.3 L59.9,116.2 L60.0,114.1 L60.1,112.0 L60.1,110.0 L60.2,107.9 L60.3,105.8 L60.4,103.7 L60.5,101.7 L60.6,99.6 L60.7,97.5 L60.8,95.5 L60.9,93.4 L61.0,91.4 L61.1,89.4 L61.2,87.4 L61.4,85.4 L61.5,83.5 L61.7,81.5 L61.8,79.6 L62.0,77.7 L62.1,75.9 L62.3,74.0 L62.5,72.2 L62.7,70.5 L62.9,68.7 L63.1,67.0 L63.3,65.4 L63.5,63.8 L63.8,62.2 L64.0,60.6 L64.3,59.2 L64.5,57.7 L64.8,56.3 L65.1,54.9 L65.4,53.6 L65.8,52.4 L66.1,51.1 L66.5,50.0 L66.9,48.9 L67.3,47.8 L67.7,46.8 L68.1,45.8 L68.6,44.8 L69.0,44.0 L69.5,43.1 L70.1,42.3 L70.6,41.6 L71.2,40.9" stroke="#0B4926"/>
<path d="M58.5,238.0 L58.5,235.0 L58.5,234.9 L58.5,234.7 L58.5,234.6 L58.5,234.5 L58.5,234.3 L58.5,234.2 L58.5,234.0 L58.5,233.9 L58.5,233.7 L58.5,233.5 L58.5,233.3 L58.5,233.1 L58.5,232.9 L58.5,232.7 L58.6,232.5 L58.6,232.3 L58.6,232.1 L58.6,231.8 L58.6,231.6 L58.6,231.3 L58.6,231.0 L58.6,230.7 L58.6,230.4 L58.6,230.1 L58.6,229.8 L58.6,229.5 L58.6,229.1 L58.6,228.8 L58.6,228.4 L58.6,228.0 L58.6,227.6 L58.6,227.2 L58.7,226.8 L58.7,226.3 L58.7,225.8 L58.7,225.4 L58.7,224.9 L58.7,224.3 L58.7,223.8 L58.7,223.2 L58.8,222.6 L58.8,222.0 L58.8,221.4 L58.8,220.7 L58.8,220.0 L58.9,219.3 L58.9,218.6 L58.9,217.8 L58.9,217.0 L59.0,216.2 L59.0,215.4 L59.0,214.5 L59.1,213.6 L59.1,212.6 L59.1,211.7 L59.2,210.6 L59.2,209.6 L59.3,208.5 L59.3,207.4 L59.4,206.2 L59.4,205.0 L59.5,203.8 L59.5,202.5 L59.6,201.2 L59.7,199.8 L59.7,198.4 L59.8,196.9 L59.9,195.4 L60.0,193.9 L60.1,192.3 L60.2,190.6 L60.3,188.9 L60.4,187.2 L60.6,185.3 L60.7,183.5 L60.8,181.6 L61.0,179.6 L61.2,177.6 L61.3,175.6 L61.5,173.5 L61.7,171.3 L61.9,169.1 L62.1,166.8 L62.4,164.5 L62.6,162.1 L62.9,159.7 L63.2,157.2 L63.5,154.7 L63.8,152.1 L64.1,149.5 L64.5,146.8 L64.9,144.1 L65.3,141.4 L65.7,138.6 L66.2,135.8 L66.7,133.0 L67.2,130.1 L67.8,127.2 L68.4,124.3 L69.0,121.4 L69.7,118.4 L70.4,115.5 L71.2,112.5 L72.0,109.5 L72.9,106.6 L73.8,103.6 L74.8,100.7 L75.9,97.8 L77.0,94.9 L78.2,92.1 L79.5,89.3 L80.8,86.5 L82.3,83.8 L83.8,81.1 L85.4,78.5 L87.2,76.0 L89.0,73.6 L91.0,71.2 L93.1,68.9 L95.3,66.7 L97.7,64.5 L100.2,62.5 L102.9,60.6 L105.8,58.7 L108.9,57.0 L112.1,55.3 L115.6,53.8 L119.3,52.3 L123.2,51.0 L127.4,49.8 L131.9,48.6 L136.6,47.6 L141.7,46.6 L147.0,45.7 L152.8,45.0 L158.8,44.3 L165.3,43.6 L172.2,43.1 L179.6,42.6" stroke="#0B4926"/>
<path d="M58.5,238.0 L58.5,234.5 L58.5,234.3 L58.5,234.2 L58.5,234.1 L58.5,233.9 L58.5,233.8 L58.5,233.6 L58.5,233.5 L58.5,233.3 L58.5,233.2 L58.5,233.0 L58.5,232.8 L58.5,232.7 L58.5,232.5 L58.5,232.3 L58.6,232.1 L58.6,231.9 L58.6,231.7 L58.6,231.5 L58.6,231.2 L58.6,231.0 L58.6,230.8 L58.6,230.5 L58.6,230.3 L58.6,230.0 L58.6,229.7 L58.6,229.4 L58.6,229.1 L58.6,228.8 L58.6,228.5 L58.6,228.2 L58.6,227.9 L58.6,227.5 L58.7,227.2 L58.7,226.8 L58.7,226.4 L58.7,226.0 L58.7,225.6 L58.7,225.2 L58.7,224.8 L58.7,224.3 L58.8,223.9 L58.8,223.4 L58.8,222.9 L58.8,222.4 L58.8,221.9 L58.8,221.4 L58.9,220.8 L58.9,220.3 L58.9,219.7 L58.9,219.1 L59.0,218.5 L59.0,217.8 L59.0,217.2 L59.1,216.5 L59.1,215.8 L59.1,215.1 L59.2,214.4 L59.2,213.6 L59.3,212.8 L59.3,212.0 L59.4,211.2 L59.4,210.4 L59.5,209.5 L59.6,208.6 L59.6,207.7 L59.7,206.8 L59.8,205.8 L59.8,204.8 L59.9,203.8 L60.0,202.8 L60.1,201.7 L60.2,200.6 L60.3,199.5 L60.5,198.4 L60.6,197.2 L60.7,196.0 L60.8,194.8 L61.0,193.5 L61.2,192.2 L61.3,190.9 L61.5,189.6 L61.7,188.2 L61.9,186.9 L62.1,185.4 L62.4,184.0 L62.6,182.5 L62.9,181.1 L63.1,179.5 L63.4,178.0 L63.8,176.4 L64.1,174.9 L64.4,173.3 L64.8,171.6 L65.2,170.0 L65.7,168.3 L66.1,166.6 L66.6,164.9 L67.1,163.2 L67.7,161.5 L68.3,159.7 L68.9,158.0 L69.5,156.2 L70.2,154.5 L71.0,152.7 L71.8,150.9 L72.6,149.1 L73.5,147.4 L74.5,145.6 L75.5,143.8 L76.6,142.0 L77.8,140.3 L79.0,138.5 L80.3,136.8 L81.7,135.1 L83.2,133.4 L84.8,131.8 L86.4,130.1 L88.2,128.5 L90.1,126.9 L92.1,125.4 L94.3,123.8 L96.6,122.4 L99.0,120.9 L101.6,119.5 L104.3,118.1 L107.3,116.8 L110.4,115.6 L113.7,114.3 L117.2,113.2 L120.9,112.0 L124.9,111.0 L129.2,109.9 L133.7,109.0 L138.5,108.0 L143.6,107.2 L149.0,106.4 L154.8,105.6 L161.0,104.9 L167.5,104.2" stroke="#0B4926"/>
<path d="M58.5,238.0 L58.5,234.9 L58.5,234.7 L58.5,234.6 L58.5,234.5 L58.5,234.4 L58.5,234.2 L58.5,234.1 L58.5,234.0 L58.5,233.8 L58.5,233.7 L58.5,233.5 L58.5,233.3 L58.5,233.2 L58.5,233.0 L58.5,232.8 L58.5,232.6 L58.6,232.4 L58.6,232.2 L58.6,232.0 L58.6,231.8 L58.6,231.6 L58.6,231.3 L58.6,231.1 L58.6,230.9 L58.6,230.6 L58.6,230.3 L58.6,230.1 L58.6,229.8 L58.6,229.5 L58.6,229.2 L58.6,228.9 L58.6,228.5 L58.6,228.2 L58.6,227.8 L58.7,227.5 L58.7,227.1 L58.7,226.7 L58.7,226.3 L58.7,225.9 L58.7,225.5 L58.7,225.0 L58.7,224.6 L58.8,224.1 L58.8,223.6 L58.8,223.1 L58.8,222.6 L58.8,222.1 L58.8,221.5 L58.9,221.0 L58.9,220.4 L58.9,219.8 L58.9,219.1 L59.0,218.5 L59.0,217.8 L59.0,217.2 L59.1,216.4 L59.1,215.7 L59.1,215.0 L59.2,214.2 L59.2,213.4 L59.3,212.6 L59.3,211.7 L59.4,210.9 L59.4,210.0 L59.5,209.1 L59.5,208.1 L59.6,207.2 L59.7,206.2 L59.8,205.1 L59.8,204.1 L59.9,203.0 L60.0,201.9 L60.1,200.8 L60.2,199.6 L60.3,198.5 L60.4,197.2 L60.5,196.0 L60.7,194.7 L60.8,193.4 L60.9,192.1 L61.1,190.8 L61.3,189.4 L61.4,188.0 L61.6,186.5 L61.8,185.1 L62.0,183.6 L62.2,182.1 L62.5,180.5 L62.7,179.0 L63.0,177.4 L63.3,175.8 L63.6,174.1 L63.9,172.5 L64.2,170.8 L64.6,169.1 L65.0,167.4 L65.4,165.7 L65.8,164.0 L66.3,162.3 L66.8,160.5 L67.3,158.7 L67.8,157.0 L68.4,155.2 L69.0,153.4 L69.7,151.7 L70.4,149.9 L71.1,148.2 L71.9,146.4 L72.8,144.7 L73.7,143.0 L74.6,141.3 L75.6,139.6 L76.7,137.9 L77.9,136.3 L79.1,134.7 L80.4,133.1 L81.7,131.6 L83.2,130.0 L84.8,128.6 L86.4,127.1 L88.1,125.8 L90.0,124.4 L92.0,123.1 L94.1,121.9 L96.3,120.7 L98.7,119.5 L101.2,118.4 L103.9,117.4 L106.7,116.4 L109.8,115.5 L113.0,114.6 L116.4,113.8 L120.0,113.0 L123.9,112.3 L128.0,111.6 L132.4,111.0 L137.0,110.4 L141.9,109.9 L147.1,109.4 L152.7,109.0" stroke="#0B4926"/>
<path d="M58.5,238.0 L58.5,237.6 L58.5,237.2 L58.5,236.8 L58.5,236.4 L58.5,236.0 L58.5,235.5 L58.5,235.0 L58.5,234.5 L58.5,234.0 L58.5,233.5 L58.5,233.0 L58.6,232.4 L58.6,231.8 L58.6,231.2 L58.6,230.6 L58.6,230.0 L58.6,229.4 L58.7,228.7 L58.7,228.1 L58.7,227.4 L58.8,226.7 L58.8,226.0 L58.8,225.3 L58.9,224.6 L58.9,223.9 L59.0,223.2 L59.1,222.4 L59.1,221.7 L59.2,220.9 L59.2,220.1 L59.3,219.4 L59.4,218.6 L59.5,217.8 L59.6,217.0 L59.7,216.2 L59.8,215.4 L59.9,214.6 L60.0,213.7 L60.1,212.8 L60.2,211.8 L60.3,210.7 L60.4,209.6 L60.6,208.5 L60.7,207.4 L60.9,206.2 L61.0,205.0 L61.2,203.8 L61.3,202.6 L61.5,201.3 L61.7,200.1 L61.9,198.9 L62.1,197.8 L62.3,196.6 L62.5,195.5 L62.7,194.4 L62.9,193.4 L63.2,192.4 L63.4,191.4 L63.6,190.5 L63.9,189.7 L64.1,189.0 L64.4,188.2 L64.7,187.5 L65.0,186.8 L65.3,186.1 L65.6,185.5 L65.9,184.8 L66.2,184.2 L66.5,183.6 L66.9,183.0 L67.2,182.4 L67.6,181.8 L67.9,181.2 L68.3,180.6 L68.7,180.0 L69.1,179.4 L69.5,178.8 L69.9,178.2 L70.3,177.5 L70.8,176.9 L71.2,176.3 L71.6,175.7 L72.1,175.2 L72.6,174.6 L73.1,174.0 L73.6,173.4 L74.1,172.7 L74.6,172.1 L75.1,171.4 L75.7,170.6 L76.2,169.8 L76.8,168.8 L77.3,167.7 L77.9,166.6 L78.5,165.6 L79.1,164.6 L79.7,163.7 L80.4,162.9 L81.0,162.1 L81.7,161.3 L82.3,160.5 L83.0,159.7 L83.7,158.9 L84.4,158.1 L85.1,157.2 L85.9,156.3 L86.6,155.4 L87.4,154.6 L88.2,153.7 L88.9,153.0 L89.7,152.3 L90.5,151.7 L91.4,151.1 L92.2,150.6 L93.1,150.1 L93.9,149.6 L94.8,149.1 L95.7,148.6 L96.6,148.2 L97.5,147.8 L98.5,147.3 L99.4,146.9 L100.4,146.4 L101.4,146.0 L102.4,145.5 L103.4,145.1 L104.4,144.6 L105.4,144.2 L106.5,143.8 L107.6,143.4 L108.6,143.0 L109.7,142.6 L110.9,142.3 L112.0,141.9 L113.1,141.6 L114.3,141.2 L115.5,140.9 L116.7,140.6 L117.9,140.3 L119.1,140.0 L120.4,139.7 L121.6,139.4 L122.9,139.2 L124.2,138.9 L125.5,138.7 L126.8,138.5 L128.2,138.3 L129.5,138.1 L130.9,137.9 L132.3,137.8 L133.7,137.7 L135.2,137.5 L136.6,137.4 L138.1,137.3 L139.6,137.2 L141.1,137.1 L142.6,137.1 L144.1,137.0 L145.7,137.0" stroke="#0B4926"/>
<path d="M58.5,238.0 L58.5,229.2 L58.5,229.0 L58.5,228.8 L58.5,228.5 L58.5,228.3 L58.5,228.0 L58.5,227.8 L58.5,227.5 L58.5,227.2 L58.5,226.9 L58.5,226.7 L58.5,226.4 L58.5,226.1 L58.5,225.8 L58.5,225.4 L58.5,225.1 L58.5,224.8 L58.5,224.4 L58.5,224.1 L58.5,223.7 L58.5,223.4 L58.5,223.0 L58.6,222.6 L58.6,222.2 L58.6,221.8 L58.6,221.4 L58.6,221.0 L58.6,220.5 L58.6,220.1 L58.6,219.6 L58.6,219.2 L58.6,218.7 L58.6,218.2 L58.6,217.7 L58.6,217.2 L58.6,216.7 L58.6,216.1 L58.6,215.6 L58.6,215.0 L58.6,214.4 L58.6,213.9 L58.6,213.3 L58.6,212.6 L58.6,212.0 L58.6,211.4 L58.6,210.7 L58.6,210.0 L58.6,209.4 L58.6,208.6 L58.7,207.9 L58.7,207.2 L58.7,206.4 L58.7,205.7 L58.7,204.9 L58.7,204.1 L58.7,203.3 L58.7,202.5 L58.7,201.6 L58.7,200.7 L58.7,199.9 L58.7,199.0 L58.8,198.0 L58.8,197.1 L58.8,196.1 L58.8,195.2 L58.8,194.2 L58.8,193.2 L58.8,192.1 L58.8,191.1 L58.9,190.0 L58.9,188.9 L58.9,187.8 L58.9,186.7 L58.9,185.5 L58.9,184.4 L59.0,183.2 L59.0,182.0 L59.0,180.7 L59.0,179.5 L59.0,178.2 L59.1,176.9 L59.1,175.6 L59.1,174.3 L59.1,172.9 L59.2,171.6 L59.2,170.2 L59.2,168.8 L59.3,167.4 L59.3,165.9 L59.3,164.5 L59.4,163.0 L59.4,161.5 L59.4,160.0 L59.5,158.4 L59.5,156.9 L59.6,155.3 L59.6,153.8 L59.7,152.2 L59.7,150.6 L59.8,148.9 L59.8,147.3 L59.9,145.7 L59.9,144.0 L60.0,142.3 L60.1,140.7 L60.1,139.0 L60.2,137.3 L60.3,135.6 L60.4,133.9 L60.4,132.2 L60.5,130.5 L60.6,128.8 L60.7,127.1 L60.8,125.3 L60.9,123.6 L61.0,121.9 L61.1,120.2 L61.2,118.5 L61.3,116.8 L61.4,115.1 L61.6,113.4 L61.7,111.8 L61.8,110.1 L62.0,108.5 L62.1,106.9 L62.3,105.2 L62.4,103.6 L62.6,102.1 L62.8,100.5 L63.0,99.0 L63.2,97.5 L63.4,96.0 L63.6,94.5 L63.8,93.1 L64.0,91.7 L64.2,90.3 L64.5,89.0 L64.8,87.6 L65.0,86.4 L65.3,85.1" stroke="#0B4926"/>
<path d="M58.5,238.0 L58.5,234.4 L58.5,234.2 L58.5,234.1 L58.5,233.9 L58.5,233.8 L58.5,233.6 L58.5,233.5 L58.5,233.3 L58.5,233.1 L58.5,233.0 L58.5,232.8 L58.5,232.6 L58.5,232.4 L58.5,232.2 L58.5,232.0 L58.5,231.8 L58.5,231.5 L58.5,231.3 L58.6,231.1 L58.6,230.8 L58.6,230.5 L58.6,230.3 L58.6,230.0 L58.6,229.7 L58.6,229.4 L58.6,229.1 L58.6,228.8 L58.6,228.5 L58.6,228.1 L58.6,227.8 L58.6,227.4 L58.6,227.0 L58.6,226.6 L58.6,226.2 L58.6,225.8 L58.6,225.4 L58.6,224.9 L58.6,224.4 L58.6,224.0 L58.7,223.5 L58.7,223.0 L58.7,222.4 L58.7,221.9 L58.7,221.3 L58.7,220.7 L58.7,220.1 L58.7,219.5 L58.7,218.9 L58.7,218.2 L58.8,217.5 L58.8,216.8 L58.8,216.1 L58.8,215.3 L58.8,214.5 L58.8,213.7 L58.8,212.9 L58.9,212.1 L58.9,211.2 L58.9,210.3 L58.9,209.4 L59.0,208.4 L59.0,207.4 L59.0,206.4 L59.0,205.4 L59.1,204.3 L59.1,203.2 L59.1,202.1 L59.2,200.9 L59.2,199.7 L59.2,198.5 L59.3,197.2 L59.3,196.0 L59.3,194.6 L59.4,193.3 L59.4,191.9 L59.5,190.5 L59.5,189.0 L59.6,187.5 L59.7,186.0 L59.7,184.4 L59.8,182.9 L59.9,181.2 L59.9,179.6 L60.0,177.9 L60.1,176.2 L60.2,174.4 L60.3,172.6 L60.4,170.8 L60.4,169.0 L60.6,167.1 L60.7,165.2 L60.8,163.3 L60.9,161.3 L61.0,159.4 L61.2,157.4 L61.3,155.3 L61.5,153.3 L61.6,151.3 L61.8,149.2 L62.0,147.1 L62.1,145.0 L62.3,142.9 L62.5,140.8 L62.8,138.7 L63.0,136.6 L63.2,134.5 L63.5,132.4 L63.7,130.3 L64.0,128.3 L64.3,126.2 L64.6,124.1 L65.0,122.1 L65.3,120.1 L65.7,118.2 L66.0,116.2 L66.4,114.3 L66.9,112.4 L67.3,110.6 L67.8,108.8 L68.3,107.1 L68.8,105.4 L69.4,103.8 L69.9,102.2 L70.5,100.7 L71.2,99.2 L71.9,97.8 L72.6,96.5 L73.3,95.2 L74.1,94.0 L75.0,92.8 L75.8,91.7 L76.8,90.7 L77.7,89.7 L78.8,88.8 L79.9,88.0 L81.0,87.2 L82.2,86.5 L83.5,85.8 L84.8,85.2 L86.2,84.7" stroke="#0B4926"/>
<path d="M58.5,238.0 L58.5,213.8 L58.5,213.3 L58.5,212.8 L58.5,212.3 L58.5,211.8 L58.5,211.3 L58.5,210.8 L58.5,210.2 L58.5,209.6 L58.5,209.1 L58.5,208.5 L58.5,207.9 L58.5,207.3 L58.5,206.7 L58.5,206.1 L58.6,205.5 L58.6,204.8 L58.6,204.2 L58.6,203.5 L58.6,202.8 L58.6,202.1 L58.6,201.4 L58.6,200.7 L58.6,200.0 L58.6,199.3 L58.6,198.5 L58.6,197.8 L58.6,197.0 L58.6,196.2 L58.6,195.4 L58.6,194.6 L58.6,193.8 L58.7,192.9 L58.7,192.1 L58.7,191.2 L58.7,190.4 L58.7,189.5 L58.7,188.6 L58.7,187.7 L58.7,186.7 L58.8,185.8 L58.8,184.8 L58.8,183.9 L58.8,182.9 L58.8,181.9 L58.8,180.9 L58.9,179.9 L58.9,178.8 L58.9,177.8 L58.9,176.7 L59.0,175.7 L59.0,174.6 L59.0,173.5 L59.1,172.3 L59.1,171.2 L59.2,170.1 L59.2,168.9 L59.2,167.8 L59.3,166.6 L59.3,165.4 L59.4,164.2 L59.5,163.0 L59.5,161.7 L59.6,160.5 L59.7,159.3 L59.7,158.0 L59.8,156.7 L59.9,155.4 L60.0,154.1 L60.1,152.8 L60.2,151.5 L60.3,150.2 L60.4,148.9 L60.6,147.5 L60.7,146.2 L60.8,144.8 L61.0,143.4 L61.1,142.1 L61.3,140.7 L61.5,139.3 L61.7,137.9 L61.9,136.5 L62.1,135.1 L62.4,133.7 L62.6,132.3 L62.9,130.9 L63.2,129.4 L63.5,128.0 L63.8,126.6 L64.2,125.2 L64.5,123.8 L64.9,122.3 L65.4,120.9 L65.8,119.5 L66.3,118.1 L66.8,116.7 L67.3,115.3 L67.9,113.9 L68.5,112.5 L69.2,111.1 L69.9,109.7 L70.6,108.3 L71.4,107.0 L72.3,105.6 L73.2,104.3 L74.1,103.0 L75.2,101.6 L76.2,100.3 L77.4,99.0 L78.6,97.8 L80.0,96.5 L81.4,95.2 L82.9,94.0 L84.5,92.8 L86.2,91.6 L88.0,90.4 L89.9,89.3 L92.0,88.1 L94.2,87.0 L96.5,85.9 L99.0,84.8 L101.6,83.8 L104.4,82.7 L107.5,81.7 L110.7,80.8 L114.1,79.8 L117.7,78.9 L121.6,77.9 L125.7,77.1 L130.1,76.2 L134.8,75.4 L139.8,74.6 L145.2,73.8 L150.8,73.0 L156.9,72.3 L163.3,71.6 L170.2,70.9 L177.5,70.2 L185.3,69.6 L193.6,69.0" stroke="#AE3A1F"/>
<path d="M58.5,238.0 L58.5,223.5 L58.5,223.1 L58.5,222.8 L58.5,222.4 L58.5,222.0 L58.5,221.6 L58.5,221.2 L58.5,220.8 L58.5,220.4 L58.5,220.0 L58.5,219.6 L58.5,219.1 L58.5,218.7 L58.5,218.2 L58.5,217.7 L58.5,217.3 L58.6,216.8 L58.6,216.3 L58.6,215.7 L58.6,215.2 L58.6,214.7 L58.6,214.1 L58.6,213.6 L58.6,213.0 L58.6,212.4 L58.6,211.8 L58.6,211.2 L58.6,210.6 L58.6,209.9 L58.6,209.3 L58.6,208.6 L58.6,208.0 L58.6,207.3 L58.6,206.6 L58.7,205.8 L58.7,205.1 L58.7,204.4 L58.7,203.6 L58.7,202.8 L58.7,202.0 L58.7,201.2 L58.7,200.4 L58.7,199.6 L58.8,198.7 L58.8,197.8 L58.8,197.0 L58.8,196.1 L58.8,195.1 L58.9,194.2 L58.9,193.2 L58.9,192.3 L58.9,191.3 L59.0,190.3 L59.0,189.3 L59.0,188.2 L59.0,187.2 L59.1,186.1 L59.1,185.0 L59.1,183.9 L59.2,182.8 L59.2,181.6 L59.3,180.5 L59.3,179.3 L59.4,178.1 L59.4,176.9 L59.5,175.7 L59.5,174.4 L59.6,173.2 L59.7,171.9 L59.8,170.6 L59.8,169.3 L59.9,168.0 L60.0,166.6 L60.1,165.3 L60.2,163.9 L60.3,162.5 L60.4,161.1 L60.5,159.7 L60.7,158.2 L60.8,156.8 L60.9,155.3 L61.1,153.9 L61.2,152.4 L61.4,150.9 L61.6,149.4 L61.8,147.9 L62.0,146.3 L62.2,144.8 L62.4,143.3 L62.7,141.7 L62.9,140.2 L63.2,138.6 L63.5,137.0 L63.8,135.5 L64.1,133.9 L64.5,132.3 L64.9,130.7 L65.2,129.2 L65.7,127.6 L66.1,126.0 L66.6,124.4 L67.1,122.9 L67.6,121.3 L68.2,119.7 L68.8,118.2 L69.4,116.6 L70.1,115.1 L70.8,113.6 L71.6,112.1 L72.4,110.5 L73.2,109.1 L74.1,107.6 L75.1,106.1 L76.1,104.7 L77.2,103.3 L78.4,101.9 L79.6,100.5 L80.9,99.1 L82.3,97.8 L83.8,96.5 L85.3,95.2 L87.0,93.9 L88.7,92.7 L90.6,91.5 L92.6,90.3 L94.7,89.1 L97.0,88.0 L99.3,86.9 L101.9,85.8 L104.5,84.8 L107.4,83.8 L110.4,82.8 L113.6,81.9 L117.0,81.0 L120.7,80.1 L124.5,79.3 L128.6,78.5 L132.9,77.7 L137.5,77.0 L142.4,76.3" stroke="#AE3A1F"/>
<path d="M58.5,238.0 L58.5,234.2 L58.5,234.1 L58.5,234.0 L58.5,233.8 L58.5,233.7 L58.5,233.5 L58.5,233.4 L58.5,233.2 L58.5,233.0 L58.5,232.9 L58.5,232.7 L58.5,232.5 L58.5,232.3 L58.5,232.1 L58.6,231.9 L58.6,231.7 L58.6,231.5 L58.6,231.2 L58.6,231.0 L58.6,230.8 L58.6,230.5 L58.6,230.2 L58.6,230.0 L58.6,229.7 L58.6,229.4 L58.6,229.1 L58.6,228.8 L58.6,228.5 L58.6,228.1 L58.6,227.8 L58.6,227.4 L58.7,227.1 L58.7,226.7 L58.7,226.3 L58.7,225.9 L58.7,225.5 L58.7,225.1 L58.7,224.6 L58.7,224.2 L58.8,223.7 L58.8,223.2 L58.8,222.7 L58.8,222.2 L58.8,221.6 L58.9,221.1 L58.9,220.5 L58.9,219.9 L58.9,219.3 L59.0,218.7 L59.0,218.0 L59.0,217.4 L59.1,216.7 L59.1,216.0 L59.2,215.2 L59.2,214.5 L59.3,213.7 L59.3,212.9 L59.4,212.1 L59.4,211.2 L59.5,210.4 L59.6,209.5 L59.6,208.5 L59.7,207.6 L59.8,206.6 L59.9,205.6 L60.0,204.6 L60.1,203.5 L60.2,202.4 L60.3,201.3 L60.4,200.2 L60.5,199.0 L60.7,197.8 L60.8,196.5 L61.0,195.3 L61.2,194.0 L61.3,192.6 L61.5,191.3 L61.7,189.9 L62.0,188.4 L62.2,187.0 L62.5,185.5 L62.7,184.0 L63.0,182.4 L63.3,180.8 L63.7,179.2 L64.0,177.5 L64.4,175.8 L64.8,174.1 L65.2,172.4 L65.7,170.6 L66.2,168.8 L66.7,167.0 L67.3,165.1 L67.9,163.2 L68.5,161.3 L69.2,159.4 L69.9,157.4 L70.7,155.4 L71.5,153.4 L72.4,151.4 L73.4,149.4 L74.4,147.3 L75.5,145.2 L76.6,143.2 L77.9,141.1 L79.2,139.0 L80.6,136.9 L82.1,134.8 L83.7,132.7 L85.4,130.6 L87.3,128.5 L89.2,126.5 L91.3,124.4 L93.6,122.4 L96.0,120.3 L98.5,118.3 L101.3,116.3 L104.2,114.4 L107.3,112.5 L110.7,110.6 L114.2,108.7 L118.0,106.9 L122.1,105.1 L126.5,103.4 L131.1,101.7 L136.1,100.1 L141.4,98.5 L147.0,97.0 L153.1,95.5 L159.5,94.1 L166.4,92.7 L173.8,91.4 L181.7,90.2 L190.1,89.0 L199.1,87.9 L208.7,86.9 L219.0,85.9 L230.0,85.0 L241.7,84.1 L254.2,83.3" stroke="#AE3A1F"/>
<path d="M58.5,238.0 L58.5,231.1 L58.5,230.9 L58.5,230.7 L58.5,230.5 L58.5,230.2 L58.5,230.0 L58.5,229.7 L58.5,229.5 L58.5,229.2 L58.5,228.9 L58.5,228.6 L58.5,228.3 L58.5,228.0 L58.5,227.7 L58.5,227.4 L58.6,227.1 L58.6,226.7 L58.6,226.4 L58.6,226.0 L58.6,225.6 L58.6,225.2 L58.6,224.8 L58.6,224.4 L58.6,224.0 L58.6,223.6 L58.6,223.1 L58.6,222.6 L58.6,222.2 L58.6,221.7 L58.6,221.2 L58.6,220.7 L58.6,220.1 L58.6,219.6 L58.7,219.0 L58.7,218.4 L58.7,217.8 L58.7,217.2 L58.7,216.6 L58.7,216.0 L58.7,215.3 L58.7,214.6 L58.7,213.9 L58.8,213.2 L58.8,212.4 L58.8,211.7 L58.8,210.9 L58.8,210.1 L58.9,209.3 L58.9,208.4 L58.9,207.6 L58.9,206.7 L59.0,205.8 L59.0,204.9 L59.0,203.9 L59.1,202.9 L59.1,201.9 L59.1,200.9 L59.2,199.9 L59.2,198.8 L59.3,197.7 L59.3,196.6 L59.4,195.4 L59.4,194.3 L59.5,193.1 L59.5,191.9 L59.6,190.6 L59.7,189.3 L59.7,188.1 L59.8,186.7 L59.9,185.4 L60.0,184.0 L60.1,182.6 L60.2,181.2 L60.3,179.8 L60.4,178.3 L60.5,176.8 L60.7,175.3 L60.8,173.7 L60.9,172.2 L61.1,170.6 L61.3,169.0 L61.4,167.4 L61.6,165.7 L61.8,164.1 L62.0,162.4 L62.3,160.7 L62.5,159.0 L62.7,157.2 L63.0,155.5 L63.3,153.7 L63.6,152.0 L63.9,150.2 L64.3,148.4 L64.6,146.6 L65.0,144.8 L65.4,143.1 L65.9,141.3 L66.4,139.5 L66.9,137.7 L67.4,135.9 L67.9,134.1 L68.5,132.3 L69.2,130.6 L69.9,128.8 L70.6,127.1 L71.4,125.4 L72.2,123.7 L73.0,122.0 L74.0,120.4 L74.9,118.7 L76.0,117.1 L77.1,115.6 L78.3,114.1 L79.5,112.6 L80.9,111.1 L82.3,109.7 L83.8,108.3 L85.4,106.9 L87.1,105.6 L88.9,104.4 L90.9,103.2 L92.9,102.0 L95.1,100.9 L97.4,99.8 L99.9,98.8 L102.5,97.8 L105.3,96.9 L108.3,96.0 L111.5,95.2 L114.8,94.4 L118.4,93.7 L122.2,93.0 L126.3,92.3 L130.6,91.7 L135.2,91.2 L140.0,90.7 L145.2,90.2 L150.7,89.8 L156.6,89.4 L162.8,89.0" stroke="#AE3A1F"/>
<path d="M58.5,238.0 L58.5,237.0 L58.5,236.1 L58.5,235.1 L58.5,234.2 L58.5,233.2 L58.5,232.3 L58.5,231.4 L58.6,230.5 L58.6,229.6 L58.6,228.7 L58.6,227.7 L58.7,226.9 L58.7,226.0 L58.8,225.1 L58.8,224.2 L58.9,223.3 L59.0,222.5 L59.1,221.6 L59.2,220.7 L59.3,219.9 L59.4,219.0 L59.5,218.2 L59.6,217.3 L59.8,216.5 L59.9,215.7 L60.1,214.9 L60.3,214.0 L60.5,213.2 L60.7,212.5 L60.9,211.7 L61.1,210.9 L61.4,210.1 L61.7,209.4 L61.9,208.6 L62.2,207.8 L62.5,207.0 L62.9,206.2 L63.2,205.4 L63.6,204.6 L64.0,203.8 L64.4,202.9 L64.8,202.1 L65.2,201.3 L65.7,200.6 L66.1,199.8 L66.6,199.0 L67.2,198.3 L67.7,197.6 L68.2,196.8 L68.8,196.1 L69.4,195.4 L70.1,194.7 L70.7,194.0 L71.4,193.4 L72.1,192.7 L72.8,192.0 L73.5,191.4 L74.3,190.8 L75.1,190.2 L75.9,189.7 L76.7,189.1 L77.6,188.4 L78.5,187.8 L79.4,187.1 L80.4,186.4 L81.3,185.7 L82.3,185.0 L83.4,184.3 L84.4,183.6 L85.5,182.9 L86.6,182.1 L87.8,181.4 L88.9,180.6 L90.2,179.8 L91.4,179.1 L92.7,178.3 L94.0,177.5 L95.3,176.8 L96.7,176.1 L98.1,175.4 L99.5,174.7 L100.9,174.0 L102.4,173.3 L104.0,172.6 L105.5,172.0 L107.1,171.3 L108.8,170.7 L110.4,170.1 L112.1,169.5 L113.9,168.9 L115.7,168.3 L117.5,167.8 L119.3,167.2 L121.2,166.7 L123.1,166.2 L125.1,165.7 L127.1,165.1 L129.1,164.5 L131.2,163.9 L133.3,163.3 L135.5,162.7 L137.7,162.1 L139.9,161.4 L142.2,160.8 L144.5,160.2 L146.9,159.6 L149.3,159.0 L151.7,158.4 L154.2,157.8 L156.7,157.2 L159.3,156.6 L161.9,156.1 L164.6,155.5 L167.3,154.9 L170.1,154.4 L172.8,153.8 L175.7,153.2 L178.6,152.7 L181.5,152.2 L184.5,151.6 L187.5,151.1 L190.6,150.6 L193.7,150.1 L196.8,149.6 L200.1,149.2 L203.3,148.8 L206.6,148.3 L210.0,147.9 L213.4,147.5 L216.8,147.1 L220.4,146.8 L223.9,146.4 L227.5,146.0 L231.2,145.7 L234.9,145.3 L238.6,144.9 L242.4,144.6 L246.3,144.2 L250.2,143.8 L254.2,143.4 L258.2,143.0 L262.3,142.6 L266.4,142.3 L270.6,141.9 L274.8,141.6 L279.1,141.4 L283.5,141.2 L287.9,140.9 L292.3,140.7 L296.8,140.6 L301.4,140.4 L306.0,140.2 L310.7,140.0 L315.4,139.9 L320.2,139.7 L325.1,139.5 L330.0,139.4 L335.0,139.2 L340.0,139.0" stroke="#AE3A1F"/>
<path d="M58.5,238.0 L58.5,234.8 L58.5,234.7 L58.5,234.5 L58.5,234.4 L58.5,234.3 L58.5,234.1 L58.5,234.0 L58.5,233.8 L58.5,233.6 L58.5,233.5 L58.5,233.3 L58.5,233.1 L58.5,232.9 L58.5,232.7 L58.5,232.5 L58.5,232.3 L58.5,232.1 L58.6,231.9 L58.6,231.6 L58.6,231.4 L58.6,231.1 L58.6,230.8 L58.6,230.6 L58.6,230.3 L58.6,230.0 L58.6,229.7 L58.6,229.3 L58.6,229.0 L58.6,228.6 L58.6,228.3 L58.6,227.9 L58.6,227.5 L58.6,227.1 L58.6,226.7 L58.6,226.3 L58.6,225.8 L58.6,225.3 L58.6,224.9 L58.7,224.4 L58.7,223.8 L58.7,223.3 L58.7,222.7 L58.7,222.2 L58.7,221.6 L58.7,220.9 L58.7,220.3 L58.7,219.6 L58.8,218.9 L58.8,218.2 L58.8,217.5 L58.8,216.7 L58.8,215.9 L58.8,215.1 L58.8,214.3 L58.9,213.4 L58.9,212.5 L58.9,211.5 L58.9,210.6 L59.0,209.6 L59.0,208.5 L59.0,207.5 L59.0,206.4 L59.1,205.2 L59.1,204.1 L59.1,202.9 L59.2,201.6 L59.2,200.3 L59.2,199.0 L59.3,197.6 L59.3,196.2 L59.4,194.8 L59.4,193.3 L59.5,191.8 L59.5,190.2 L59.6,188.6 L59.6,186.9 L59.7,185.2 L59.8,183.5 L59.8,181.7 L59.9,179.8 L60.0,178.0 L60.1,176.0 L60.2,174.1 L60.3,172.0 L60.4,170.0 L60.5,167.9 L60.6,165.7 L60.7,163.5 L60.8,161.3 L60.9,159.0 L61.1,156.7 L61.2,154.4 L61.3,152.0 L61.5,149.6 L61.7,147.2 L61.8,144.7 L62.0,142.2 L62.2,139.6 L62.4,137.1 L62.7,134.5 L62.9,131.9 L63.1,129.3 L63.4,126.7 L63.7,124.1 L63.9,121.5 L64.2,118.8 L64.6,116.2 L64.9,113.6 L65.3,111.0 L65.6,108.5 L66.0,105.9 L66.4,103.4 L66.9,100.9 L67.3,98.4 L67.8,96.0 L68.3,93.7 L68.9,91.4 L69.5,89.1 L70.1,86.9 L70.7,84.8 L71.4,82.7 L72.1,80.7 L72.9,78.8 L73.7,76.9 L74.5,75.1 L75.4,73.4 L76.3,71.8 L77.3,70.3 L78.3,68.9 L79.4,67.5 L80.6,66.3 L81.8,65.1 L83.1,64.0 L84.5,63.0 L85.9,62.0 L87.4,61.2 L89.0,60.4 L90.7,59.7 L92.5,59.1 L94.4,58.5" stroke="#AE3A1F"/>
<path d="M58.5,238.0 L58.5,235.9 L58.5,235.8 L58.5,235.7 L58.5,235.6 L58.5,235.5 L58.5,235.4 L58.5,235.3 L58.5,235.2 L58.5,235.1 L58.5,235.0 L58.5,234.8 L58.5,234.7 L58.5,234.6 L58.5,234.5 L58.5,234.3 L58.5,234.2 L58.5,234.0 L58.6,233.9 L58.6,233.7 L58.6,233.5 L58.6,233.3 L58.6,233.2 L58.6,233.0 L58.6,232.8 L58.6,232.6 L58.6,232.3 L58.6,232.1 L58.6,231.9 L58.6,231.6 L58.6,231.4 L58.6,231.1 L58.6,230.9 L58.6,230.6 L58.6,230.3 L58.6,230.0 L58.6,229.7 L58.7,229.4 L58.7,229.0 L58.7,228.7 L58.7,228.3 L58.7,227.9 L58.7,227.5 L58.7,227.1 L58.7,226.7 L58.7,226.3 L58.8,225.8 L58.8,225.3 L58.8,224.9 L58.8,224.4 L58.8,223.8 L58.8,223.3 L58.9,222.7 L58.9,222.2 L58.9,221.6 L58.9,220.9 L58.9,220.3 L59.0,219.6 L59.0,218.9 L59.0,218.2 L59.1,217.5 L59.1,216.7 L59.1,215.9 L59.2,215.1 L59.2,214.3 L59.2,213.4 L59.3,212.5 L59.3,211.6 L59.4,210.6 L59.4,209.7 L59.5,208.6 L59.5,207.6 L59.6,206.5 L59.7,205.4 L59.7,204.3 L59.8,203.1 L59.9,201.9 L60.0,200.6 L60.1,199.3 L60.1,198.0 L60.2,196.7 L60.3,195.3 L60.4,193.9 L60.6,192.4 L60.7,190.9 L60.8,189.4 L60.9,187.8 L61.1,186.2 L61.2,184.6 L61.4,182.9 L61.6,181.2 L61.7,179.5 L61.9,177.7 L62.1,175.9 L62.3,174.1 L62.6,172.2 L62.8,170.3 L63.0,168.4 L63.3,166.5 L63.6,164.5 L63.9,162.6 L64.2,160.6 L64.5,158.5 L64.9,156.5 L65.2,154.5 L65.6,152.4 L66.0,150.4 L66.5,148.3 L66.9,146.2 L67.4,144.2 L68.0,142.1 L68.5,140.1 L69.1,138.1 L69.7,136.1 L70.4,134.1 L71.0,132.1 L71.8,130.2 L72.5,128.3 L73.4,126.5 L74.2,124.6 L75.1,122.9 L76.1,121.1 L77.1,119.5 L78.2,117.8 L79.4,116.3 L80.6,114.8 L81.8,113.3 L83.2,111.9 L84.6,110.6 L86.2,109.4 L87.8,108.2 L89.5,107.1 L91.3,106.0 L93.2,105.0 L95.2,104.1 L97.3,103.3 L99.6,102.5 L102.0,101.8 L104.5,101.1 L107.2,100.5 L110.0,100.0" stroke="#AE3A1F"/>
<path d="M58.5,238.0 L58.5,235.7 L58.5,235.6 L58.5,235.5 L58.5,235.4 L58.5,235.3 L58.5,235.2 L58.5,235.1 L58.5,235.0 L58.5,234.9 L58.5,234.8 L58.5,234.6 L58.5,234.5 L58.5,234.4 L58.5,234.2 L58.5,234.1 L58.5,233.9 L58.5,233.8 L58.6,233.6 L58.6,233.4 L58.6,233.3 L58.6,233.1 L58.6,232.9 L58.6,232.7 L58.6,232.5 L58.6,232.3 L58.6,232.1 L58.6,231.8 L58.6,231.6 L58.6,231.4 L58.6,231.1 L58.6,230.9 L58.6,230.6 L58.6,230.3 L58.6,230.0 L58.6,229.7 L58.6,229.4 L58.6,229.1 L58.7,228.7 L58.7,228.4 L58.7,228.0 L58.7,227.6 L58.7,227.2 L58.7,226.8 L58.7,226.4 L58.7,226.0 L58.7,225.5 L58.8,225.1 L58.8,224.6 L58.8,224.1 L58.8,223.6 L58.8,223.1 L58.8,222.5 L58.8,221.9 L58.9,221.4 L58.9,220.7 L58.9,220.1 L58.9,219.5 L59.0,218.8 L59.0,218.1 L59.0,217.4 L59.0,216.6 L59.1,215.9 L59.1,215.1 L59.1,214.3 L59.2,213.5 L59.2,212.6 L59.3,211.7 L59.3,210.8 L59.3,209.8 L59.4,208.9 L59.4,207.9 L59.5,206.8 L59.5,205.8 L59.6,204.7 L59.7,203.6 L59.7,202.4 L59.8,201.2 L59.9,200.0 L60.0,198.8 L60.0,197.5 L60.1,196.2 L60.2,194.9 L60.3,193.5 L60.4,192.1 L60.5,190.7 L60.6,189.2 L60.8,187.8 L60.9,186.2 L61.0,184.7 L61.2,183.1 L61.3,181.5 L61.5,179.9 L61.6,178.2 L61.8,176.5 L62.0,174.8 L62.2,173.1 L62.4,171.3 L62.6,169.6 L62.9,167.8 L63.1,166.0 L63.4,164.2 L63.6,162.3 L63.9,160.5 L64.2,158.6 L64.6,156.8 L64.9,154.9 L65.3,153.1 L65.7,151.2 L66.1,149.4 L66.5,147.5 L66.9,145.7 L67.4,143.9 L67.9,142.1 L68.4,140.3 L69.0,138.6 L69.6,136.9 L70.2,135.2 L70.9,133.5 L71.6,131.9 L72.3,130.3 L73.1,128.8 L73.9,127.3 L74.8,125.9 L75.7,124.5 L76.7,123.1 L77.7,121.9 L78.8,120.6 L80.0,119.5 L81.2,118.4 L82.5,117.3 L83.8,116.3 L85.2,115.4 L86.7,114.5 L88.3,113.7 L90.0,112.9 L91.8,112.2 L93.7,111.6 L95.7,111.0 L97.8,110.5 L100.0,110.0" stroke="#AE3A1F"/>
<path d="M58.5,238.0 L58.5,236.0 L58.5,236.0 L58.5,235.9 L58.5,235.8 L58.5,235.7 L58.5,235.6 L58.5,235.5 L58.5,235.4 L58.5,235.3 L58.5,235.2 L58.5,235.1 L58.5,235.0 L58.5,234.8 L58.5,234.7 L58.5,234.6 L58.5,234.4 L58.6,234.3 L58.6,234.1 L58.6,234.0 L58.6,233.8 L58.6,233.7 L58.6,233.5 L58.6,233.3 L58.6,233.1 L58.6,232.9 L58.6,232.7 L58.6,232.5 L58.6,232.3 L58.6,232.0 L58.6,231.8 L58.6,231.5 L58.6,231.3 L58.6,231.0 L58.6,230.7 L58.6,230.4 L58.7,230.1 L58.7,229.8 L58.7,229.5 L58.7,229.1 L58.7,228.8 L58.7,228.4 L58.7,228.0 L58.7,227.6 L58.7,227.2 L58.8,226.8 L58.8,226.4 L58.8,225.9 L58.8,225.4 L58.8,224.9 L58.8,224.4 L58.9,223.9 L58.9,223.3 L58.9,222.7 L58.9,222.2 L59.0,221.5 L59.0,220.9 L59.0,220.2 L59.0,219.6 L59.1,218.8 L59.1,218.1 L59.1,217.3 L59.2,216.6 L59.2,215.7 L59.3,214.9 L59.3,214.0 L59.4,213.1 L59.4,212.2 L59.5,211.2 L59.5,210.2 L59.6,209.2 L59.6,208.2 L59.7,207.1 L59.8,205.9 L59.9,204.8 L59.9,203.6 L60.0,202.4 L60.1,201.1 L60.2,199.8 L60.3,198.4 L60.4,197.1 L60.5,195.6 L60.7,194.2 L60.8,192.7 L60.9,191.2 L61.1,189.6 L61.2,188.0 L61.4,186.3 L61.5,184.6 L61.7,182.9 L61.9,181.1 L62.1,179.4 L62.3,177.5 L62.6,175.6 L62.8,173.7 L63.1,171.8 L63.3,169.8 L63.6,167.8 L63.9,165.8 L64.3,163.8 L64.6,161.7 L65.0,159.6 L65.3,157.5 L65.8,155.3 L66.2,153.2 L66.6,151.0 L67.1,148.8 L67.6,146.6 L68.2,144.5 L68.8,142.3 L69.4,140.1 L70.0,137.9 L70.7,135.8 L71.4,133.7 L72.2,131.5 L73.0,129.5 L73.9,127.4 L74.8,125.4 L75.8,123.4 L76.8,121.4 L77.9,119.5 L79.0,117.7 L80.2,115.9 L81.5,114.1 L82.9,112.4 L84.4,110.8 L85.9,109.3 L87.5,107.8 L89.2,106.4 L91.1,105.0 L93.0,103.8 L95.1,102.6 L97.2,101.4 L99.5,100.4 L102.0,99.4 L104.6,98.5 L107.3,97.7 L110.2,96.9 L113.3,96.2 L116.5,95.6 L120.0,95.0" stroke="#AE3A1F"/>
<path d="M58.5,238.0 L58.5,236.5 L58.5,236.4 L58.5,236.3 L58.5,236.3 L58.5,236.2 L58.5,236.1 L58.5,236.1 L58.5,236.0 L58.5,235.9 L58.5,235.8 L58.5,235.7 L58.5,235.6 L58.5,235.6 L58.5,235.5 L58.5,235.4 L58.5,235.2 L58.5,235.1 L58.6,235.0 L58.6,234.9 L58.6,234.8 L58.6,234.7 L58.6,234.5 L58.6,234.4 L58.6,234.3 L58.6,234.1 L58.6,234.0 L58.6,233.8 L58.6,233.6 L58.6,233.5 L58.6,233.3 L58.6,233.1 L58.6,232.9 L58.6,232.7 L58.6,232.5 L58.6,232.3 L58.6,232.1 L58.6,231.8 L58.7,231.6 L58.7,231.4 L58.7,231.1 L58.7,230.8 L58.7,230.6 L58.7,230.3 L58.7,230.0 L58.7,229.7 L58.7,229.3 L58.8,229.0 L58.8,228.7 L58.8,228.3 L58.8,227.9 L58.8,227.5 L58.8,227.2 L58.9,226.7 L58.9,226.3 L58.9,225.9 L58.9,225.4 L59.0,224.9 L59.0,224.4 L59.0,223.9 L59.0,223.4 L59.1,222.9 L59.1,222.3 L59.1,221.7 L59.2,221.1 L59.2,220.5 L59.3,219.8 L59.3,219.2 L59.3,218.5 L59.4,217.8 L59.4,217.0 L59.5,216.3 L59.5,215.5 L59.6,214.7 L59.7,213.9 L59.7,213.0 L59.8,212.1 L59.9,211.2 L60.0,210.2 L60.0,209.3 L60.1,208.3 L60.2,207.2 L60.3,206.2 L60.4,205.1 L60.5,204.0 L60.7,202.8 L60.8,201.7 L60.9,200.4 L61.1,199.2 L61.2,197.9 L61.4,196.6 L61.5,195.3 L61.7,193.9 L61.9,192.5 L62.1,191.1 L62.3,189.6 L62.5,188.1 L62.7,186.6 L63.0,185.1 L63.2,183.5 L63.5,181.9 L63.8,180.2 L64.1,178.6 L64.4,176.9 L64.7,175.2 L65.1,173.5 L65.5,171.7 L65.9,169.9 L66.3,168.2 L66.8,166.4 L67.2,164.5 L67.7,162.7 L68.3,160.9 L68.8,159.0 L69.4,157.2 L70.0,155.4 L70.7,153.5 L71.4,151.7 L72.1,149.9 L72.9,148.0 L73.7,146.3 L74.6,144.5 L75.5,142.7 L76.5,141.0 L77.6,139.3 L78.6,137.6 L79.8,135.9 L81.0,134.3 L82.3,132.8 L83.7,131.3 L85.1,129.8 L86.7,128.4 L88.3,127.0 L90.0,125.7 L91.8,124.4 L93.7,123.2 L95.7,122.0 L97.8,120.9 L100.1,119.9 L102.5,118.9 L105.0,118.0" stroke="#AE3A1F"/>
<path d="M58.5,238.0 L58.5,236.4 L58.5,236.3 L58.5,236.3 L58.5,236.2 L58.5,236.1 L58.5,236.1 L58.5,236.0 L58.5,235.9 L58.5,235.8 L58.5,235.8 L58.5,235.7 L58.5,235.6 L58.5,235.5 L58.5,235.4 L58.5,235.3 L58.5,235.2 L58.5,235.1 L58.5,235.0 L58.6,234.9 L58.6,234.8 L58.6,234.6 L58.6,234.5 L58.6,234.4 L58.6,234.2 L58.6,234.1 L58.6,234.0 L58.6,233.8 L58.6,233.6 L58.6,233.5 L58.6,233.3 L58.6,233.1 L58.6,233.0 L58.6,232.8 L58.6,232.6 L58.6,232.4 L58.6,232.2 L58.6,231.9 L58.6,231.7 L58.7,231.5 L58.7,231.2 L58.7,231.0 L58.7,230.7 L58.7,230.5 L58.7,230.2 L58.7,229.9 L58.7,229.6 L58.7,229.3 L58.7,229.0 L58.8,228.7 L58.8,228.3 L58.8,228.0 L58.8,227.6 L58.8,227.2 L58.8,226.8 L58.9,226.4 L58.9,226.0 L58.9,225.6 L58.9,225.1 L58.9,224.6 L59.0,224.2 L59.0,223.7 L59.0,223.2 L59.0,222.6 L59.1,222.1 L59.1,221.5 L59.1,220.9 L59.2,220.3 L59.2,219.7 L59.3,219.1 L59.3,218.4 L59.3,217.7 L59.4,217.0 L59.4,216.3 L59.5,215.5 L59.5,214.8 L59.6,214.0 L59.7,213.2 L59.7,212.3 L59.8,211.5 L59.9,210.6 L59.9,209.7 L60.0,208.7 L60.1,207.7 L60.2,206.7 L60.3,205.7 L60.4,204.7 L60.5,203.6 L60.6,202.5 L60.7,201.4 L60.8,200.2 L60.9,199.0 L61.1,197.8 L61.2,196.6 L61.4,195.3 L61.5,194.0 L61.7,192.6 L61.9,191.3 L62.1,189.9 L62.3,188.5 L62.5,187.1 L62.7,185.6 L62.9,184.1 L63.1,182.6 L63.4,181.1 L63.7,179.5 L64.0,177.9 L64.2,176.3 L64.6,174.7 L64.9,173.1 L65.2,171.4 L65.6,169.7 L66.0,168.1 L66.4,166.4 L66.9,164.7 L67.3,162.9 L67.8,161.2 L68.3,159.5 L68.8,157.8 L69.4,156.1 L70.0,154.3 L70.6,152.6 L71.3,150.9 L72.0,149.3 L72.8,147.6 L73.5,145.9 L74.4,144.3 L75.2,142.7 L76.1,141.1 L77.1,139.5 L78.1,138.0 L79.2,136.5 L80.4,135.1 L81.6,133.6 L82.8,132.3 L84.1,130.9 L85.6,129.7 L87.0,128.4 L88.6,127.2 L90.3,126.1 L92.0,125.0" stroke="#AE3A1F"/>
</g>
<rect x="277.6" y="9" width="46.4" height="152" fill="#fff"/>
<g stroke="#000" stroke-width="1.8">
<line x1="284.3" y1="16.2" x2="284.3" y2="52.3" stroke-width="2"/>
<line x1="284.3" y1="91.0" x2="284.3" y2="116.2" stroke-width="2"/>
<rect x="279.8" y="52.3" width="9.0" height="38.7" fill="#DDB71C"/>
<line x1="279.8" y1="79.3" x2="288.8" y2="79.3" stroke-width="3"/>
<line x1="295.4" y1="84.1" x2="295.4" y2="84.1" stroke-width="2"/>
<line x1="295.4" y1="109.2" x2="295.4" y2="144.9" stroke-width="2"/>
<rect x="290.9" y="84.1" width="9.0" height="25.10000000000001" fill="#0B4926"/>
<line x1="290.9" y1="100.4" x2="299.9" y2="100.4" stroke-width="3"/>
<line x1="306.2" y1="62.2" x2="306.2" y2="81.0" stroke-width="2"/>
<line x1="306.2" y1="113.3" x2="306.2" y2="156.8" stroke-width="2"/>
<rect x="301.7" y="81.0" width="9.0" height="32.3" fill="#8DB49A"/>
<line x1="301.7" y1="98.3" x2="310.7" y2="98.3" stroke-width="3"/>
<line x1="317.0" y1="58.9" x2="317.0" y2="76.5" stroke-width="2"/>
<line x1="317.0" y1="109.0" x2="317.0" y2="138.3" stroke-width="2"/>
<rect x="312.5" y="76.5" width="9.0" height="32.5" fill="#AE3A1F"/>
<line x1="312.5" y1="86.2" x2="321.5" y2="86.2" stroke-width="3"/>
</g>
<g fill="#000">
<ellipse cx="283.0" cy="16.4" rx="1.4" ry="0.8"/>
<ellipse cx="286.2" cy="30.3" rx="1.4" ry="0.8"/>
<ellipse cx="294.5" cy="41.5" rx="1.4" ry="0.8"/>
<ellipse cx="283.8" cy="66.3" rx="1.4" ry="0.8"/>
<ellipse cx="282.8" cy="75.5" rx="1.4" ry="0.8"/>
<ellipse cx="285" cy="83.5" rx="1.4" ry="0.8"/>
<ellipse cx="284.5" cy="87.6" rx="1.4" ry="0.8"/>
<ellipse cx="283.5" cy="105.5" rx="1.4" ry="0.8"/>
<ellipse cx="283.5" cy="116.2" rx="1.4" ry="0.8"/>
<ellipse cx="296.5" cy="144.9" rx="1.4" ry="0.8"/>
<ellipse cx="294" cy="137" rx="1.4" ry="0.8"/>
<ellipse cx="296" cy="100.4" rx="1.4" ry="0.8"/>
<ellipse cx="295.5" cy="93" rx="1.4" ry="0.8"/>
<ellipse cx="304.2" cy="62.4" rx="1.4" ry="0.8"/>
<ellipse cx="308.3" cy="62.6" rx="1.4" ry="0.8"/>
<ellipse cx="306.5" cy="87" rx="1.4" ry="0.8"/>
<ellipse cx="306" cy="98.3" rx="1.4" ry="0.8"/>
<ellipse cx="307.5" cy="156.8" rx="1.4" ry="0.8"/>
<ellipse cx="305" cy="141" rx="1.4" ry="0.8"/>
<ellipse cx="306.5" cy="113.3" rx="1.4" ry="0.8"/>
<ellipse cx="305.5" cy="105" rx="1.4" ry="0.8"/>
<ellipse cx="318.2" cy="58.9" rx="1.4" ry="0.8"/>
<ellipse cx="316.5" cy="68" rx="1.4" ry="0.8"/>
<ellipse cx="317" cy="80" rx="1.4" ry="0.8"/>
<ellipse cx="317.5" cy="86.2" rx="1.4" ry="0.8"/>
<ellipse cx="317" cy="102" rx="1.4" ry="0.8"/>
<ellipse cx="318.2" cy="138.3" rx="1.4" ry="0.8"/>
<ellipse cx="316" cy="112" rx="1.4" ry="0.8"/>
</g>
<g stroke="#3c3c3c" stroke-width="1" fill="none"><rect x="48.5" y="7.7" width="279.9" height="238.8"/>
<line x1="58.5" y1="246.5" x2="58.5" y2="254.0"/>
<line x1="144.95999999999998" y1="246.5" x2="144.95999999999998" y2="254.0"/>
<line x1="231.42" y1="246.5" x2="231.42" y2="254.0"/>
<line x1="317.88" y1="246.5" x2="317.88" y2="254.0"/>
<line x1="48.5" y1="238.0" x2="40.8" y2="238.0"/>
<line x1="48.5" y1="198.87" x2="40.8" y2="198.87"/>
<line x1="48.5" y1="159.74" x2="40.8" y2="159.74"/>
<line x1="48.5" y1="120.60999999999999" x2="40.8" y2="120.60999999999999"/>
<line x1="48.5" y1="81.47999999999999" x2="40.8" y2="81.47999999999999"/>
<line x1="48.5" y1="42.349999999999994" x2="40.8" y2="42.349999999999994"/>
</g>
<g fill="#111" font-size="12.4" text-anchor="middle" stroke="#111" stroke-width="0.25">
<text x="58.5" y="273.8">0e+00</text>
<text x="144.95999999999998" y="273.8">2e+05</text>
<text x="231.42" y="273.8">4e+05</text>
<text x="317.88" y="273.8">6e+05</text>
<text transform="translate(30.9,238.0) rotate(-90)">0</text>
<text transform="translate(30.9,198.87) rotate(-90)">100</text>
<text transform="translate(30.9,159.74) rotate(-90)">200</text>
<text transform="translate(30.9,120.60999999999999) rotate(-90)">300</text>
<text transform="translate(30.9,81.47999999999999) rotate(-90)">400</text>
<text transform="translate(30.9,42.349999999999994) rotate(-90)">500</text>
</g>
<g fill="#111" font-size="16.4" text-anchor="middle" stroke="#111" stroke-width="0.2"><text x="179.3" y="290.5"># reads</text>
<text transform="translate(12.2,129.0) rotate(-90)">vOTUs</text></g>
<g stroke="#3c3c3c" stroke-width="1"><line x1="58.5" y1="246.5" x2="58.5" y2="254"/><line x1="101.72999999999999" y1="246.5" x2="101.72999999999999" y2="254"/><line x1="144.95999999999998" y1="246.5" x2="144.95999999999998" y2="254"/><line x1="188.19" y1="246.5" x2="188.19" y2="254"/><line x1="231.42" y1="246.5" x2="231.42" y2="254"/><line x1="274.65" y1="246.5" x2="274.65" y2="254"/><line x1="317.88" y1="246.5" x2="317.88" y2="254"/></g>
<g font-size="12.6" fill="#111" stroke="#111" stroke-width="0.2">
<line x1="243" y1="189.1" x2="260.5" y2="189.1" stroke="#DDB71C" stroke-width="3.1"/>
<text x="265.6" y="193.29999999999998" stroke-width="0.2">spring</text>
<line x1="243" y1="205.2" x2="260.5" y2="205.2" stroke="#0B4926" stroke-width="3.1"/>
<text x="265.6" y="209.39999999999998" stroke-width="0.2">summer</text>
<line x1="243" y1="221.3" x2="260.5" y2="221.3" stroke="#8DB49A" stroke-width="3.1"/>
<text x="265.6" y="225.5" stroke-width="0.2">fall</text>
<line x1="243" y1="237.4" x2="260.5" y2="237.4" stroke="#AE3A1F" stroke-width="3.1"/>
<text x="265.6" y="241.6" stroke-width="0.2">winter</text>
</g>
<g clip-path="url(#cb)" fill="none" stroke-linejoin="round">
<path d="M402.7,185.1 L431.6,147.8 L460.4,122.4 L489.3,102.6 L518.2,87.8 L547.0,75.6 L575.9,63.1 L604.8,53.8 L633.6,45.5" stroke="#DDB71C" stroke-width="1.6"/>
<path d="M402.7,158.5 L431.6,123.2 L460.4,97.8 L489.3,79.8 L518.2,65.3 L547.0,55.8 L575.9,48.3 L604.8,43.8 L633.6,45.5" stroke="#DDB71C" stroke-width="1.6" stroke-dasharray="5.5,7.035"/>
<path d="M402.7,209.2 L431.6,175.7 L460.4,150.7 L489.3,129.3 L518.2,110.3 L547.0,93.6 L575.9,79.2 L604.8,64.6 L633.6,45.5" stroke="#DDB71C" stroke-width="1.6" stroke-dasharray="5.5,7.225"/>
<path d="M402.7,175.7 L431.6,134.9 L460.4,105.8 L489.3,83.2 L518.2,65.9 L547.0,51.9 L575.9,39.1 L604.8,30.6 L633.6,22.9 L662.5,16.5" stroke="#8DB49A" stroke-width="1.6"/>
<path d="M402.7,152.9 L431.6,112.6 L460.4,84.9 L489.3,64.6 L518.2,48.9 L547.0,37.1 L575.9,28.3 L604.8,21.9 L633.6,17.7 L662.5,16.5" stroke="#8DB49A" stroke-width="1.6" stroke-dasharray="5.5,7.050"/>
<path d="M402.7,199.3 L431.6,157.7 L460.4,127.7 L489.3,102.8 L518.2,82.0 L547.0,66.0 L575.9,50.0 L604.8,39.0 L633.6,27.5 L662.5,16.5" stroke="#8DB49A" stroke-width="1.6" stroke-dasharray="5.5,6.783"/>
<path d="M402.7,186.6 L431.6,152.3 L460.4,130.4 L489.3,112.8 L518.2,96.7 L547.0,85.6 L575.9,76.0 L604.8,66.3 L633.6,58.5 L662.5,51.6" stroke="#0B4926" stroke-width="1.6"/>
<path d="M402.7,166.2 L431.6,132.1 L460.4,107.6 L489.3,89.3 L518.2,75.5 L547.0,65.7 L575.9,57.9 L604.8,53.1 L633.6,50.2 L662.5,51.6" stroke="#0B4926" stroke-width="1.6" stroke-dasharray="5.5,7.144"/>
<path d="M402.7,208.9 L431.6,177.1 L460.4,154.6 L489.3,136.5 L518.2,121.1 L547.0,105.8 L575.9,92.9 L604.8,79.8 L633.6,66.7 L662.5,51.6" stroke="#0B4926" stroke-width="1.6" stroke-dasharray="5.5,7.046"/>
<path d="M402.7,184.0 L431.6,145.0 L460.4,116.4 L489.3,95.2 L518.2,77.6 L547.0,64.1 L575.9,53.8 L604.8,42.8 L633.6,33.6 L662.5,25.5" stroke="#AE3A1F" stroke-width="1.6"/>
<path d="M402.7,165.4 L431.6,124.4 L460.4,94.2 L489.3,70.5 L518.2,51.8 L547.0,37.1 L575.9,28.3 L604.8,22.3 L633.6,20.7 L662.5,25.5" stroke="#AE3A1F" stroke-width="1.6" stroke-dasharray="5.5,6.834"/>
<path d="M402.7,200.4 L431.6,166.5 L460.4,140.8 L489.3,121.4 L518.2,104.2 L547.0,89.8 L575.9,75.3 L604.8,60.9 L633.6,45.1 L662.5,25.5" stroke="#AE3A1F" stroke-width="1.6" stroke-dasharray="5.5,6.926"/>
</g>
<g stroke="#3c3c3c" stroke-width="1" fill="none"><rect x="392.6" y="7.7" width="279.9" height="238.8"/>
<line x1="431.565" y1="246.5" x2="431.565" y2="254.0"/>
<line x1="489.29499999999996" y1="246.5" x2="489.29499999999996" y2="254.0"/>
<line x1="547.025" y1="246.5" x2="547.025" y2="254.0"/>
<line x1="604.755" y1="246.5" x2="604.755" y2="254.0"/>
<line x1="662.4849999999999" y1="246.5" x2="662.4849999999999" y2="254.0"/>
<line x1="392.6" y1="237.4" x2="384.90000000000003" y2="237.4"/>
<line x1="392.6" y1="164.78" x2="384.90000000000003" y2="164.78"/>
<line x1="392.6" y1="92.16" x2="384.90000000000003" y2="92.16"/>
<line x1="392.6" y1="19.539999999999992" x2="384.90000000000003" y2="19.539999999999992"/>
</g>
<g fill="#111" font-size="12.4" text-anchor="middle" stroke="#111" stroke-width="0.25">
<text x="431.565" y="273.8">2</text>
<text x="489.29499999999996" y="273.8">4</text>
<text x="547.025" y="273.8">6</text>
<text x="604.755" y="273.8">8</text>
<text x="662.4849999999999" y="273.8">10</text>
<text transform="translate(375.0,237.4) rotate(-90)">0</text>
<text transform="translate(375.0,164.78) rotate(-90)">500</text>
<text transform="translate(375.0,92.16) rotate(-90)">1000</text>
<text transform="translate(375.0,19.539999999999992) rotate(-90)">1500</text>
</g>
<g fill="#111" font-size="16.4" text-anchor="middle" stroke="#111" stroke-width="0.2"><text x="535.5" y="291.3">sites</text>
<text transform="translate(358.5,121.2) rotate(-90)">vOTUs</text></g>
<g font-weight="bold" fill="#000" stroke="#000" stroke-width="0.5"><text x="13.8" y="13.2" font-size="19.2">a</text><text x="346.0" y="14.2" font-size="20.8">b</text></g>
</svg>
</body></html>
